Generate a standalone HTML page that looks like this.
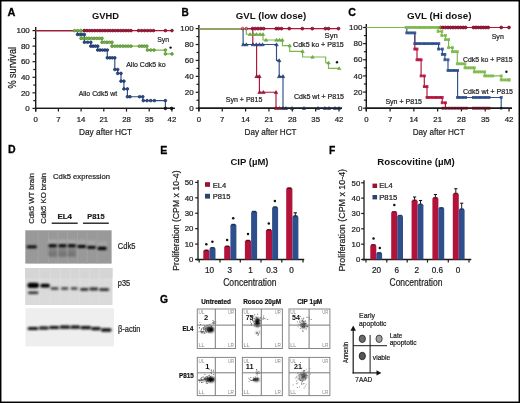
<!DOCTYPE html><html><head><meta charset="utf-8"><style>html,body{margin:0;padding:0;background:#fff;overflow:hidden;}svg{display:block;will-change:transform;}</style></head><body><svg width="520" height="403" viewBox="0 0 520 403" font-family="Liberation Sans, sans-serif">
<defs><filter id="bl" x="-30%" y="-80%" width="160%" height="260%"><feGaussianBlur stdDeviation="0.8"/></filter><filter id="bl2" x="-80%" y="-80%" width="260%" height="260%"><feGaussianBlur stdDeviation="1.3"/></filter><filter id="bl3" x="-80%" y="-80%" width="260%" height="260%"><feGaussianBlur stdDeviation="2.2"/></filter></defs>
<rect x="0.00" y="0.00" width="520.00" height="403.00" fill="#fff" />
<line x1="35.70" y1="27.10" x2="35.70" y2="111.40" stroke="#1a1a1a" stroke-width="1.4"/>
<line x1="35.00" y1="108.40" x2="174.91" y2="108.40" stroke="#1a1a1a" stroke-width="1.4"/>
<line x1="32.50" y1="108.40" x2="35.70" y2="108.40" stroke="#1a1a1a" stroke-width="1.2"/>
<line x1="33.30" y1="100.62" x2="35.70" y2="100.62" stroke="#1a1a1a" stroke-width="1.2"/>
<line x1="32.50" y1="92.84" x2="35.70" y2="92.84" stroke="#1a1a1a" stroke-width="1.2"/>
<line x1="33.30" y1="85.06" x2="35.70" y2="85.06" stroke="#1a1a1a" stroke-width="1.2"/>
<line x1="32.50" y1="77.28" x2="35.70" y2="77.28" stroke="#1a1a1a" stroke-width="1.2"/>
<line x1="33.30" y1="69.50" x2="35.70" y2="69.50" stroke="#1a1a1a" stroke-width="1.2"/>
<line x1="32.50" y1="61.72" x2="35.70" y2="61.72" stroke="#1a1a1a" stroke-width="1.2"/>
<line x1="33.30" y1="53.94" x2="35.70" y2="53.94" stroke="#1a1a1a" stroke-width="1.2"/>
<line x1="32.50" y1="46.16" x2="35.70" y2="46.16" stroke="#1a1a1a" stroke-width="1.2"/>
<line x1="33.30" y1="38.38" x2="35.70" y2="38.38" stroke="#1a1a1a" stroke-width="1.2"/>
<line x1="32.50" y1="30.60" x2="35.70" y2="30.60" stroke="#1a1a1a" stroke-width="1.2"/>
<line x1="35.70" y1="108.40" x2="35.70" y2="111.60" stroke="#1a1a1a" stroke-width="1.2"/>
<line x1="58.40" y1="108.40" x2="58.40" y2="111.60" stroke="#1a1a1a" stroke-width="1.2"/>
<line x1="81.10" y1="108.40" x2="81.10" y2="111.60" stroke="#1a1a1a" stroke-width="1.2"/>
<line x1="103.80" y1="108.40" x2="103.80" y2="111.60" stroke="#1a1a1a" stroke-width="1.2"/>
<line x1="126.50" y1="108.40" x2="126.50" y2="111.60" stroke="#1a1a1a" stroke-width="1.2"/>
<line x1="149.20" y1="108.40" x2="149.20" y2="111.60" stroke="#1a1a1a" stroke-width="1.2"/>
<line x1="171.91" y1="108.40" x2="171.91" y2="111.60" stroke="#1a1a1a" stroke-width="1.2"/>
<text x="29.80" y="111.10" font-size="8" text-anchor="end" fill="#1e1e1e" stroke="#1e1e1e" stroke-width="0.22" >0</text>
<text x="29.80" y="95.54" font-size="8" text-anchor="end" fill="#1e1e1e" stroke="#1e1e1e" stroke-width="0.22" >20</text>
<text x="29.80" y="79.98" font-size="8" text-anchor="end" fill="#1e1e1e" stroke="#1e1e1e" stroke-width="0.22" >40</text>
<text x="29.80" y="64.42" font-size="8" text-anchor="end" fill="#1e1e1e" stroke="#1e1e1e" stroke-width="0.22" >60</text>
<text x="29.80" y="48.86" font-size="8" text-anchor="end" fill="#1e1e1e" stroke="#1e1e1e" stroke-width="0.22" >80</text>
<text x="29.80" y="33.30" font-size="8" text-anchor="end" fill="#1e1e1e" stroke="#1e1e1e" stroke-width="0.22" >100</text>
<text x="35.70" y="121.90" font-size="7.8" text-anchor="middle" fill="#1e1e1e" stroke="#1e1e1e" stroke-width="0.22" >0</text>
<text x="58.40" y="121.90" font-size="7.8" text-anchor="middle" fill="#1e1e1e" stroke="#1e1e1e" stroke-width="0.22" >7</text>
<text x="81.10" y="121.90" font-size="7.8" text-anchor="middle" fill="#1e1e1e" stroke="#1e1e1e" stroke-width="0.22" >14</text>
<text x="103.80" y="121.90" font-size="7.8" text-anchor="middle" fill="#1e1e1e" stroke="#1e1e1e" stroke-width="0.22" >21</text>
<text x="126.50" y="121.90" font-size="7.8" text-anchor="middle" fill="#1e1e1e" stroke="#1e1e1e" stroke-width="0.22" >28</text>
<text x="149.20" y="121.90" font-size="7.8" text-anchor="middle" fill="#1e1e1e" stroke="#1e1e1e" stroke-width="0.22" >35</text>
<text x="171.91" y="121.90" font-size="7.8" text-anchor="middle" fill="#1e1e1e" stroke="#1e1e1e" stroke-width="0.22" >42</text>
<text x="7.50" y="15.80" font-size="11.6" font-weight="bold" textLength="7.90" lengthAdjust="spacingAndGlyphs" fill="#000" stroke="#000" stroke-width="0.3">A</text>
<text x="92.00" y="18.90" font-size="9.6" font-weight="bold" textLength="27.00" lengthAdjust="spacingAndGlyphs" fill="#111" >GVHD</text>
<text x="79.00" y="134.60" font-size="9.7" textLength="53.00" lengthAdjust="spacingAndGlyphs" fill="#1e1e1e" stroke="#1e1e1e" stroke-width="0.22" >Day after HCT</text>
<text x="16.40" y="88.60" font-size="10.6" textLength="41.60" lengthAdjust="spacingAndGlyphs" fill="#1e1e1e" stroke="#1e1e1e" stroke-width="0.22" transform="rotate(-90 16.40 88.60)" >% survival</text>
<path d="M35.70,30.60 L77.50,30.60 L77.50,34.49 L84.40,34.49 L84.40,42.27 L90.80,42.27 L90.80,46.16 L97.70,46.16 L97.70,50.05 L107.30,50.05 L107.30,57.83 L114.80,57.83 L114.80,69.50 L117.70,69.50 L117.70,73.39 L121.00,73.39 L121.00,81.17 L123.90,81.17 L123.90,88.95 L127.40,88.95 L127.40,96.73 L142.80,96.73 L142.80,100.62 L165.40,100.62 L165.40,108.40 L172.00,108.40" fill="none" stroke="#2e4f8c" stroke-width="1.15"/>
<path d="M35.70,30.60 L81.00,30.60 L81.00,38.38 L102.00,38.38 L102.00,42.27 L112.00,42.27 L112.00,46.16 L147.00,46.16 L147.00,50.05 L165.40,50.05 L165.40,53.94 L172.00,53.94" fill="none" stroke="#7cb84a" stroke-width="1.15"/>
<line x1="35.70" y1="30.60" x2="172.00" y2="30.60" stroke="#b3123a" stroke-width="1.15"/>
<circle cx="77.50" cy="34.49" r="1.35" fill="#2e4f8c" stroke="#1a2f5e" stroke-width="0.75"/>
<circle cx="79.80" cy="34.49" r="1.35" fill="#2e4f8c" stroke="#1a2f5e" stroke-width="0.75"/>
<circle cx="82.10" cy="34.49" r="1.35" fill="#2e4f8c" stroke="#1a2f5e" stroke-width="0.75"/>
<circle cx="84.40" cy="34.49" r="1.35" fill="#2e4f8c" stroke="#1a2f5e" stroke-width="0.75"/>
<circle cx="84.40" cy="42.27" r="1.35" fill="#2e4f8c" stroke="#1a2f5e" stroke-width="0.75"/>
<circle cx="87.60" cy="42.27" r="1.35" fill="#2e4f8c" stroke="#1a2f5e" stroke-width="0.75"/>
<circle cx="90.80" cy="42.27" r="1.35" fill="#2e4f8c" stroke="#1a2f5e" stroke-width="0.75"/>
<circle cx="90.80" cy="46.16" r="1.35" fill="#2e4f8c" stroke="#1a2f5e" stroke-width="0.75"/>
<circle cx="93.10" cy="46.16" r="1.35" fill="#2e4f8c" stroke="#1a2f5e" stroke-width="0.75"/>
<circle cx="95.40" cy="46.16" r="1.35" fill="#2e4f8c" stroke="#1a2f5e" stroke-width="0.75"/>
<circle cx="97.70" cy="46.16" r="1.35" fill="#2e4f8c" stroke="#1a2f5e" stroke-width="0.75"/>
<circle cx="97.70" cy="50.05" r="1.35" fill="#2e4f8c" stroke="#1a2f5e" stroke-width="0.75"/>
<circle cx="100.10" cy="50.05" r="1.35" fill="#2e4f8c" stroke="#1a2f5e" stroke-width="0.75"/>
<circle cx="102.50" cy="50.05" r="1.35" fill="#2e4f8c" stroke="#1a2f5e" stroke-width="0.75"/>
<circle cx="104.90" cy="50.05" r="1.35" fill="#2e4f8c" stroke="#1a2f5e" stroke-width="0.75"/>
<circle cx="107.30" cy="50.05" r="1.35" fill="#2e4f8c" stroke="#1a2f5e" stroke-width="0.75"/>
<circle cx="107.30" cy="57.83" r="1.35" fill="#2e4f8c" stroke="#1a2f5e" stroke-width="0.75"/>
<circle cx="109.80" cy="57.83" r="1.35" fill="#2e4f8c" stroke="#1a2f5e" stroke-width="0.75"/>
<circle cx="112.30" cy="57.83" r="1.35" fill="#2e4f8c" stroke="#1a2f5e" stroke-width="0.75"/>
<circle cx="114.80" cy="57.83" r="1.35" fill="#2e4f8c" stroke="#1a2f5e" stroke-width="0.75"/>
<circle cx="114.80" cy="69.50" r="1.35" fill="#2e4f8c" stroke="#1a2f5e" stroke-width="0.75"/>
<circle cx="117.70" cy="69.50" r="1.35" fill="#2e4f8c" stroke="#1a2f5e" stroke-width="0.75"/>
<circle cx="117.70" cy="73.39" r="1.35" fill="#2e4f8c" stroke="#1a2f5e" stroke-width="0.75"/>
<circle cx="121.00" cy="73.39" r="1.35" fill="#2e4f8c" stroke="#1a2f5e" stroke-width="0.75"/>
<circle cx="121.00" cy="81.17" r="1.35" fill="#2e4f8c" stroke="#1a2f5e" stroke-width="0.75"/>
<circle cx="123.90" cy="81.17" r="1.35" fill="#2e4f8c" stroke="#1a2f5e" stroke-width="0.75"/>
<circle cx="123.90" cy="88.95" r="1.35" fill="#2e4f8c" stroke="#1a2f5e" stroke-width="0.75"/>
<circle cx="127.40" cy="88.95" r="1.35" fill="#2e4f8c" stroke="#1a2f5e" stroke-width="0.75"/>
<circle cx="127.40" cy="96.73" r="1.35" fill="#2e4f8c" stroke="#1a2f5e" stroke-width="0.75"/>
<circle cx="130.00" cy="96.73" r="1.35" fill="#2e4f8c" stroke="#1a2f5e" stroke-width="0.75"/>
<circle cx="139.60" cy="96.73" r="1.35" fill="#2e4f8c" stroke="#1a2f5e" stroke-width="0.75"/>
<circle cx="142.80" cy="96.73" r="1.35" fill="#2e4f8c" stroke="#1a2f5e" stroke-width="0.75"/>
<circle cx="143.30" cy="100.62" r="1.35" fill="#2e4f8c" stroke="#1a2f5e" stroke-width="0.75"/>
<circle cx="147.00" cy="100.62" r="1.35" fill="#2e4f8c" stroke="#1a2f5e" stroke-width="0.75"/>
<circle cx="150.70" cy="100.62" r="1.35" fill="#2e4f8c" stroke="#1a2f5e" stroke-width="0.75"/>
<circle cx="154.40" cy="100.62" r="1.35" fill="#2e4f8c" stroke="#1a2f5e" stroke-width="0.75"/>
<circle cx="165.40" cy="100.62" r="1.35" fill="#2e4f8c" stroke="#1a2f5e" stroke-width="0.75"/>
<line x1="35.00" y1="108.40" x2="174.91" y2="108.40" stroke="#1a1a1a" stroke-width="1.4"/>
<circle cx="165.40" cy="108.40" r="1.35" fill="#111" stroke="#111" stroke-width="0.75"/>
<circle cx="171.60" cy="108.40" r="1.35" fill="#111" stroke="#111" stroke-width="0.75"/>
<circle cx="74.60" cy="30.60" r="1.35" fill="#7cb84a" stroke="#4f8a2c" stroke-width="0.75"/>
<circle cx="77.73" cy="30.60" r="1.35" fill="#7cb84a" stroke="#4f8a2c" stroke-width="0.75"/>
<circle cx="80.87" cy="30.60" r="1.35" fill="#7cb84a" stroke="#4f8a2c" stroke-width="0.75"/>
<circle cx="84.00" cy="30.60" r="1.35" fill="#7cb84a" stroke="#4f8a2c" stroke-width="0.75"/>
<circle cx="81.00" cy="38.38" r="1.35" fill="#7cb84a" stroke="#4f8a2c" stroke-width="0.75"/>
<circle cx="83.62" cy="38.38" r="1.35" fill="#7cb84a" stroke="#4f8a2c" stroke-width="0.75"/>
<circle cx="86.25" cy="38.38" r="1.35" fill="#7cb84a" stroke="#4f8a2c" stroke-width="0.75"/>
<circle cx="88.88" cy="38.38" r="1.35" fill="#7cb84a" stroke="#4f8a2c" stroke-width="0.75"/>
<circle cx="91.50" cy="38.38" r="1.35" fill="#7cb84a" stroke="#4f8a2c" stroke-width="0.75"/>
<circle cx="94.12" cy="38.38" r="1.35" fill="#7cb84a" stroke="#4f8a2c" stroke-width="0.75"/>
<circle cx="96.75" cy="38.38" r="1.35" fill="#7cb84a" stroke="#4f8a2c" stroke-width="0.75"/>
<circle cx="99.38" cy="38.38" r="1.35" fill="#7cb84a" stroke="#4f8a2c" stroke-width="0.75"/>
<circle cx="102.00" cy="38.38" r="1.35" fill="#7cb84a" stroke="#4f8a2c" stroke-width="0.75"/>
<circle cx="102.00" cy="42.27" r="1.35" fill="#7cb84a" stroke="#4f8a2c" stroke-width="0.75"/>
<circle cx="104.50" cy="42.27" r="1.35" fill="#7cb84a" stroke="#4f8a2c" stroke-width="0.75"/>
<circle cx="107.00" cy="42.27" r="1.35" fill="#7cb84a" stroke="#4f8a2c" stroke-width="0.75"/>
<circle cx="109.50" cy="42.27" r="1.35" fill="#7cb84a" stroke="#4f8a2c" stroke-width="0.75"/>
<circle cx="112.00" cy="42.27" r="1.35" fill="#7cb84a" stroke="#4f8a2c" stroke-width="0.75"/>
<circle cx="112.00" cy="46.16" r="1.35" fill="#7cb84a" stroke="#4f8a2c" stroke-width="0.75"/>
<circle cx="114.71" cy="46.16" r="1.35" fill="#7cb84a" stroke="#4f8a2c" stroke-width="0.75"/>
<circle cx="117.43" cy="46.16" r="1.35" fill="#7cb84a" stroke="#4f8a2c" stroke-width="0.75"/>
<circle cx="120.14" cy="46.16" r="1.35" fill="#7cb84a" stroke="#4f8a2c" stroke-width="0.75"/>
<circle cx="122.86" cy="46.16" r="1.35" fill="#7cb84a" stroke="#4f8a2c" stroke-width="0.75"/>
<circle cx="125.57" cy="46.16" r="1.35" fill="#7cb84a" stroke="#4f8a2c" stroke-width="0.75"/>
<circle cx="128.29" cy="46.16" r="1.35" fill="#7cb84a" stroke="#4f8a2c" stroke-width="0.75"/>
<circle cx="131.00" cy="46.16" r="1.35" fill="#7cb84a" stroke="#4f8a2c" stroke-width="0.75"/>
<circle cx="139.30" cy="46.16" r="1.35" fill="#7cb84a" stroke="#4f8a2c" stroke-width="0.75"/>
<circle cx="141.80" cy="46.16" r="1.35" fill="#7cb84a" stroke="#4f8a2c" stroke-width="0.75"/>
<circle cx="144.30" cy="46.16" r="1.35" fill="#7cb84a" stroke="#4f8a2c" stroke-width="0.75"/>
<circle cx="146.80" cy="46.16" r="1.35" fill="#7cb84a" stroke="#4f8a2c" stroke-width="0.75"/>
<circle cx="147.50" cy="50.05" r="1.35" fill="#7cb84a" stroke="#4f8a2c" stroke-width="0.75"/>
<circle cx="150.75" cy="50.05" r="1.35" fill="#7cb84a" stroke="#4f8a2c" stroke-width="0.75"/>
<circle cx="154.00" cy="50.05" r="1.35" fill="#7cb84a" stroke="#4f8a2c" stroke-width="0.75"/>
<circle cx="165.40" cy="50.05" r="1.35" fill="#7cb84a" stroke="#4f8a2c" stroke-width="0.75"/>
<circle cx="165.40" cy="53.94" r="1.35" fill="#7cb84a" stroke="#4f8a2c" stroke-width="0.75"/>
<circle cx="172.00" cy="53.94" r="1.35" fill="#7cb84a" stroke="#4f8a2c" stroke-width="0.75"/>
<circle cx="84.40" cy="30.60" r="1.35" fill="#b3123a" stroke="#640a26" stroke-width="0.75"/>
<circle cx="86.99" cy="30.60" r="1.35" fill="#b3123a" stroke="#640a26" stroke-width="0.75"/>
<circle cx="89.58" cy="30.60" r="1.35" fill="#b3123a" stroke="#640a26" stroke-width="0.75"/>
<circle cx="92.17" cy="30.60" r="1.35" fill="#b3123a" stroke="#640a26" stroke-width="0.75"/>
<circle cx="94.76" cy="30.60" r="1.35" fill="#b3123a" stroke="#640a26" stroke-width="0.75"/>
<circle cx="97.34" cy="30.60" r="1.35" fill="#b3123a" stroke="#640a26" stroke-width="0.75"/>
<circle cx="99.93" cy="30.60" r="1.35" fill="#b3123a" stroke="#640a26" stroke-width="0.75"/>
<circle cx="102.52" cy="30.60" r="1.35" fill="#b3123a" stroke="#640a26" stroke-width="0.75"/>
<circle cx="105.11" cy="30.60" r="1.35" fill="#b3123a" stroke="#640a26" stroke-width="0.75"/>
<circle cx="107.70" cy="30.60" r="1.35" fill="#b3123a" stroke="#640a26" stroke-width="0.75"/>
<circle cx="110.29" cy="30.60" r="1.35" fill="#b3123a" stroke="#640a26" stroke-width="0.75"/>
<circle cx="112.88" cy="30.60" r="1.35" fill="#b3123a" stroke="#640a26" stroke-width="0.75"/>
<circle cx="115.47" cy="30.60" r="1.35" fill="#b3123a" stroke="#640a26" stroke-width="0.75"/>
<circle cx="118.06" cy="30.60" r="1.35" fill="#b3123a" stroke="#640a26" stroke-width="0.75"/>
<circle cx="120.64" cy="30.60" r="1.35" fill="#b3123a" stroke="#640a26" stroke-width="0.75"/>
<circle cx="123.23" cy="30.60" r="1.35" fill="#b3123a" stroke="#640a26" stroke-width="0.75"/>
<circle cx="125.82" cy="30.60" r="1.35" fill="#b3123a" stroke="#640a26" stroke-width="0.75"/>
<circle cx="128.41" cy="30.60" r="1.35" fill="#b3123a" stroke="#640a26" stroke-width="0.75"/>
<circle cx="131.00" cy="30.60" r="1.35" fill="#b3123a" stroke="#640a26" stroke-width="0.75"/>
<circle cx="138.60" cy="30.60" r="1.35" fill="#b3123a" stroke="#640a26" stroke-width="0.75"/>
<circle cx="141.58" cy="30.60" r="1.35" fill="#b3123a" stroke="#640a26" stroke-width="0.75"/>
<circle cx="144.56" cy="30.60" r="1.35" fill="#b3123a" stroke="#640a26" stroke-width="0.75"/>
<circle cx="147.54" cy="30.60" r="1.35" fill="#b3123a" stroke="#640a26" stroke-width="0.75"/>
<circle cx="150.52" cy="30.60" r="1.35" fill="#b3123a" stroke="#640a26" stroke-width="0.75"/>
<circle cx="153.50" cy="30.60" r="1.35" fill="#b3123a" stroke="#640a26" stroke-width="0.75"/>
<circle cx="165.40" cy="30.60" r="1.35" fill="#b3123a" stroke="#640a26" stroke-width="0.75"/>
<circle cx="172.00" cy="30.60" r="1.35" fill="#b3123a" stroke="#640a26" stroke-width="0.75"/>
<text x="157.20" y="41.60" font-size="7.6" textLength="11.80" lengthAdjust="spacingAndGlyphs" fill="#1e1e1e" stroke="#1e1e1e" stroke-width="0.22" >Syn</text>
<text x="126.20" y="67.00" font-size="7.4" textLength="39.40" lengthAdjust="spacingAndGlyphs" fill="#1e1e1e" stroke="#1e1e1e" stroke-width="0.22" >Allo Cdk5 ko</text>
<text x="78.70" y="96.40" font-size="7.4" textLength="38.40" lengthAdjust="spacingAndGlyphs" fill="#1e1e1e" stroke="#1e1e1e" stroke-width="0.22" >Allo Cdk5 wt</text>
<circle cx="170.60" cy="47.60" r="1.18" fill="#111"/>
<line x1="198.90" y1="25.10" x2="198.90" y2="111.20" stroke="#1a1a1a" stroke-width="1.4"/>
<line x1="198.20" y1="108.20" x2="342.01" y2="108.20" stroke="#1a1a1a" stroke-width="1.4"/>
<line x1="195.70" y1="108.20" x2="198.90" y2="108.20" stroke="#1a1a1a" stroke-width="1.2"/>
<line x1="196.50" y1="100.24" x2="198.90" y2="100.24" stroke="#1a1a1a" stroke-width="1.2"/>
<line x1="195.70" y1="92.28" x2="198.90" y2="92.28" stroke="#1a1a1a" stroke-width="1.2"/>
<line x1="196.50" y1="84.32" x2="198.90" y2="84.32" stroke="#1a1a1a" stroke-width="1.2"/>
<line x1="195.70" y1="76.36" x2="198.90" y2="76.36" stroke="#1a1a1a" stroke-width="1.2"/>
<line x1="196.50" y1="68.40" x2="198.90" y2="68.40" stroke="#1a1a1a" stroke-width="1.2"/>
<line x1="195.70" y1="60.44" x2="198.90" y2="60.44" stroke="#1a1a1a" stroke-width="1.2"/>
<line x1="196.50" y1="52.48" x2="198.90" y2="52.48" stroke="#1a1a1a" stroke-width="1.2"/>
<line x1="195.70" y1="44.52" x2="198.90" y2="44.52" stroke="#1a1a1a" stroke-width="1.2"/>
<line x1="196.50" y1="36.56" x2="198.90" y2="36.56" stroke="#1a1a1a" stroke-width="1.2"/>
<line x1="195.70" y1="28.60" x2="198.90" y2="28.60" stroke="#1a1a1a" stroke-width="1.2"/>
<line x1="198.90" y1="108.20" x2="198.90" y2="111.40" stroke="#1a1a1a" stroke-width="1.2"/>
<line x1="222.25" y1="108.20" x2="222.25" y2="111.40" stroke="#1a1a1a" stroke-width="1.2"/>
<line x1="245.60" y1="108.20" x2="245.60" y2="111.40" stroke="#1a1a1a" stroke-width="1.2"/>
<line x1="268.96" y1="108.20" x2="268.96" y2="111.40" stroke="#1a1a1a" stroke-width="1.2"/>
<line x1="292.31" y1="108.20" x2="292.31" y2="111.40" stroke="#1a1a1a" stroke-width="1.2"/>
<line x1="315.66" y1="108.20" x2="315.66" y2="111.40" stroke="#1a1a1a" stroke-width="1.2"/>
<line x1="339.01" y1="108.20" x2="339.01" y2="111.40" stroke="#1a1a1a" stroke-width="1.2"/>
<text x="193.60" y="110.90" font-size="8" text-anchor="end" fill="#1e1e1e" stroke="#1e1e1e" stroke-width="0.22" >0</text>
<text x="193.60" y="94.98" font-size="8" text-anchor="end" fill="#1e1e1e" stroke="#1e1e1e" stroke-width="0.22" >20</text>
<text x="193.60" y="79.06" font-size="8" text-anchor="end" fill="#1e1e1e" stroke="#1e1e1e" stroke-width="0.22" >40</text>
<text x="193.60" y="63.14" font-size="8" text-anchor="end" fill="#1e1e1e" stroke="#1e1e1e" stroke-width="0.22" >60</text>
<text x="193.60" y="47.22" font-size="8" text-anchor="end" fill="#1e1e1e" stroke="#1e1e1e" stroke-width="0.22" >80</text>
<text x="193.60" y="31.30" font-size="8" text-anchor="end" fill="#1e1e1e" stroke="#1e1e1e" stroke-width="0.22" >100</text>
<text x="198.90" y="121.90" font-size="7.8" text-anchor="middle" fill="#1e1e1e" stroke="#1e1e1e" stroke-width="0.22" >0</text>
<text x="222.25" y="121.90" font-size="7.8" text-anchor="middle" fill="#1e1e1e" stroke="#1e1e1e" stroke-width="0.22" >7</text>
<text x="245.60" y="121.90" font-size="7.8" text-anchor="middle" fill="#1e1e1e" stroke="#1e1e1e" stroke-width="0.22" >14</text>
<text x="268.96" y="121.90" font-size="7.8" text-anchor="middle" fill="#1e1e1e" stroke="#1e1e1e" stroke-width="0.22" >21</text>
<text x="292.31" y="121.90" font-size="7.8" text-anchor="middle" fill="#1e1e1e" stroke="#1e1e1e" stroke-width="0.22" >28</text>
<text x="315.66" y="121.90" font-size="7.8" text-anchor="middle" fill="#1e1e1e" stroke="#1e1e1e" stroke-width="0.22" >35</text>
<text x="339.01" y="121.90" font-size="7.8" text-anchor="middle" fill="#1e1e1e" stroke="#1e1e1e" stroke-width="0.22" >42</text>
<text x="181.40" y="15.80" font-size="11.6" font-weight="bold" textLength="7.30" lengthAdjust="spacingAndGlyphs" fill="#000" stroke="#000" stroke-width="0.3">B</text>
<text x="235.80" y="19.20" font-size="9.8" font-weight="bold" textLength="70.40" lengthAdjust="spacingAndGlyphs" fill="#111" >GVL (low dose)</text>
<text x="244.60" y="134.60" font-size="9.7" textLength="52.00" lengthAdjust="spacingAndGlyphs" fill="#1e1e1e" stroke="#1e1e1e" stroke-width="0.22" >Day after HCT</text>
<path d="M198.90,28.60 L252.80,28.60 L252.80,44.52 L256.60,44.52 L256.60,76.36 L259.40,76.36 L259.40,92.28 L276.00,92.28 L276.00,108.20 L283.00,108.20" fill="none" stroke="#b3123a" stroke-width="1.15"/>
<path d="M198.90,28.60 L243.10,28.60 L243.10,44.52 L276.50,44.52 L276.50,60.44 L279.20,60.44 L279.20,76.36 L283.00,76.36 L283.00,108.20 L339.00,108.20" fill="none" stroke="#2e4f8c" stroke-width="1.15"/>
<line x1="198.90" y1="28.60" x2="339.00" y2="28.60" stroke="#b3123a" stroke-width="1.15"/>
<path d="M198.90,28.60 L246.30,28.60 L246.30,34.25 L263.00,34.25 L263.00,39.98 L282.40,39.98 L282.40,45.63 L289.70,45.63 L289.70,51.37 L302.60,51.37 L302.60,57.02 L325.70,57.02 L325.70,62.75 L328.50,62.75 L328.50,68.40 L339.20,68.40" fill="none" stroke="#7cb84a" stroke-width="1.15"/>
<circle cx="242.60" cy="28.60" r="1.3" fill="none" stroke="#b3123a" stroke-width="0.9"/>
<circle cx="246.30" cy="28.60" r="1.3" fill="none" stroke="#b3123a" stroke-width="0.9"/>
<circle cx="252.50" cy="28.60" r="1.45" fill="#b3123a" stroke="#640a26" stroke-width="0.75"/>
<circle cx="255.28" cy="28.60" r="1.45" fill="#b3123a" stroke="#640a26" stroke-width="0.75"/>
<circle cx="258.05" cy="28.60" r="1.45" fill="#b3123a" stroke="#640a26" stroke-width="0.75"/>
<circle cx="260.83" cy="28.60" r="1.45" fill="#b3123a" stroke="#640a26" stroke-width="0.75"/>
<circle cx="263.60" cy="28.60" r="1.45" fill="#b3123a" stroke="#640a26" stroke-width="0.75"/>
<circle cx="276.20" cy="28.60" r="1.45" fill="#b3123a" stroke="#640a26" stroke-width="0.75"/>
<circle cx="278.50" cy="28.60" r="1.45" fill="#b3123a" stroke="#640a26" stroke-width="0.75"/>
<circle cx="281.50" cy="28.60" r="1.45" fill="#b3123a" stroke="#640a26" stroke-width="0.75"/>
<circle cx="289.20" cy="28.60" r="1.45" fill="#b3123a" stroke="#640a26" stroke-width="0.75"/>
<circle cx="302.30" cy="28.60" r="1.45" fill="#b3123a" stroke="#640a26" stroke-width="0.75"/>
<circle cx="312.30" cy="28.60" r="1.45" fill="#b3123a" stroke="#640a26" stroke-width="0.75"/>
<circle cx="325.40" cy="28.60" r="1.45" fill="#b3123a" stroke="#640a26" stroke-width="0.75"/>
<circle cx="328.50" cy="28.60" r="1.45" fill="#b3123a" stroke="#640a26" stroke-width="0.75"/>
<circle cx="338.50" cy="28.60" r="1.45" fill="#b3123a" stroke="#640a26" stroke-width="0.75"/>
<path d="M241.49,45.83 L245.11,45.83 L243.30,42.78 Z" fill="#2e4f8c" stroke="#1a2f5e" stroke-width="0.5" stroke-linejoin="round"/>
<path d="M244.49,45.83 L248.11,45.83 L246.30,42.78 Z" fill="#2e4f8c" stroke="#1a2f5e" stroke-width="0.5" stroke-linejoin="round"/>
<path d="M251.19,45.83 L254.81,45.83 L253.00,42.78 Z" fill="#2e4f8c" stroke="#1a2f5e" stroke-width="0.5" stroke-linejoin="round"/>
<path d="M254.49,45.83 L258.11,45.83 L256.30,42.78 Z" fill="#2e4f8c" stroke="#1a2f5e" stroke-width="0.5" stroke-linejoin="round"/>
<path d="M257.69,45.83 L261.31,45.83 L259.50,42.78 Z" fill="#2e4f8c" stroke="#1a2f5e" stroke-width="0.5" stroke-linejoin="round"/>
<path d="M260.69,45.83 L264.31,45.83 L262.50,42.78 Z" fill="#2e4f8c" stroke="#1a2f5e" stroke-width="0.5" stroke-linejoin="round"/>
<path d="M274.69,45.83 L278.31,45.83 L276.50,42.78 Z" fill="#2e4f8c" stroke="#1a2f5e" stroke-width="0.5" stroke-linejoin="round"/>
<path d="M277.39,61.75 L281.01,61.75 L279.20,58.70 Z" fill="#2e4f8c" stroke="#1a2f5e" stroke-width="0.5" stroke-linejoin="round"/>
<path d="M277.39,77.67 L281.01,77.67 L279.20,74.62 Z" fill="#2e4f8c" stroke="#1a2f5e" stroke-width="0.5" stroke-linejoin="round"/>
<path d="M281.19,77.67 L284.81,77.67 L283.00,74.62 Z" fill="#2e4f8c" stroke="#1a2f5e" stroke-width="0.5" stroke-linejoin="round"/>
<line x1="198.20" y1="108.20" x2="342.01" y2="108.20" stroke="#1a1a1a" stroke-width="1.4"/>
<path d="M281.31,109.42 L284.69,109.42 L283.00,106.58 Z" fill="#1a2a50" stroke="#1a2a50" stroke-width="0.5" stroke-linejoin="round"/>
<path d="M284.31,109.42 L287.69,109.42 L286.00,106.58 Z" fill="#1a2a50" stroke="#1a2a50" stroke-width="0.5" stroke-linejoin="round"/>
<path d="M290.31,109.42 L293.69,109.42 L292.00,106.58 Z" fill="#1a2a50" stroke="#1a2a50" stroke-width="0.5" stroke-linejoin="round"/>
<path d="M302.31,109.42 L305.69,109.42 L304.00,106.58 Z" fill="#1a2a50" stroke="#1a2a50" stroke-width="0.5" stroke-linejoin="round"/>
<path d="M316.31,109.42 L319.69,109.42 L318.00,106.58 Z" fill="#1a2a50" stroke="#1a2a50" stroke-width="0.5" stroke-linejoin="round"/>
<path d="M323.31,109.42 L326.69,109.42 L325.00,106.58 Z" fill="#1a2a50" stroke="#1a2a50" stroke-width="0.5" stroke-linejoin="round"/>
<path d="M327.31,109.42 L330.69,109.42 L329.00,106.58 Z" fill="#1a2a50" stroke="#1a2a50" stroke-width="0.5" stroke-linejoin="round"/>
<path d="M333.31,109.42 L336.69,109.42 L335.00,106.58 Z" fill="#1a2a50" stroke="#1a2a50" stroke-width="0.5" stroke-linejoin="round"/>
<path d="M337.31,109.42 L340.69,109.42 L339.00,106.58 Z" fill="#1a2a50" stroke="#1a2a50" stroke-width="0.5" stroke-linejoin="round"/>
<path d="M254.79,77.67 L258.41,77.67 L256.60,74.62 Z" fill="#b3123a" stroke="#640a26" stroke-width="0.5" stroke-linejoin="round"/>
<path d="M257.59,77.67 L261.21,77.67 L259.40,74.62 Z" fill="#b3123a" stroke="#640a26" stroke-width="0.5" stroke-linejoin="round"/>
<path d="M257.79,93.59 L261.41,93.59 L259.60,90.54 Z" fill="#b3123a" stroke="#640a26" stroke-width="0.5" stroke-linejoin="round"/>
<path d="M261.59,93.59 L265.21,93.59 L263.40,90.54 Z" fill="#b3123a" stroke="#640a26" stroke-width="0.5" stroke-linejoin="round"/>
<path d="M274.19,93.59 L277.81,93.59 L276.00,90.54 Z" fill="#b3123a" stroke="#640a26" stroke-width="0.5" stroke-linejoin="round"/>
<path d="M274.31,109.42 L277.69,109.42 L276.00,106.58 Z" fill="#b3123a" stroke="#640a26" stroke-width="0.5" stroke-linejoin="round"/>
<path d="M277.81,109.42 L281.19,109.42 L279.50,106.58 Z" fill="#b3123a" stroke="#640a26" stroke-width="0.5" stroke-linejoin="round"/>
<path d="M248.31,35.47 L251.69,35.47 L250.00,32.63 Z" fill="#7cb84a" stroke="#4f8a2c" stroke-width="0.5" stroke-linejoin="round"/>
<path d="M251.81,35.47 L255.19,35.47 L253.50,32.63 Z" fill="#7cb84a" stroke="#4f8a2c" stroke-width="0.5" stroke-linejoin="round"/>
<path d="M254.81,35.47 L258.19,35.47 L256.50,32.63 Z" fill="#7cb84a" stroke="#4f8a2c" stroke-width="0.5" stroke-linejoin="round"/>
<path d="M258.31,35.47 L261.69,35.47 L260.00,32.63 Z" fill="#7cb84a" stroke="#4f8a2c" stroke-width="0.5" stroke-linejoin="round"/>
<path d="M261.31,35.47 L264.69,35.47 L263.00,32.63 Z" fill="#7cb84a" stroke="#4f8a2c" stroke-width="0.5" stroke-linejoin="round"/>
<path d="M264.31,41.20 L267.69,41.20 L266.00,38.36 Z" fill="#7cb84a" stroke="#4f8a2c" stroke-width="0.5" stroke-linejoin="round"/>
<path d="M274.81,41.20 L278.19,41.20 L276.50,38.36 Z" fill="#7cb84a" stroke="#4f8a2c" stroke-width="0.5" stroke-linejoin="round"/>
<path d="M277.81,41.20 L281.19,41.20 L279.50,38.36 Z" fill="#7cb84a" stroke="#4f8a2c" stroke-width="0.5" stroke-linejoin="round"/>
<path d="M280.71,41.20 L284.09,41.20 L282.40,38.36 Z" fill="#7cb84a" stroke="#4f8a2c" stroke-width="0.5" stroke-linejoin="round"/>
<path d="M288.01,46.85 L291.39,46.85 L289.70,44.01 Z" fill="#7cb84a" stroke="#4f8a2c" stroke-width="0.5" stroke-linejoin="round"/>
<path d="M300.91,52.58 L304.29,52.58 L302.60,49.75 Z" fill="#7cb84a" stroke="#4f8a2c" stroke-width="0.5" stroke-linejoin="round"/>
<path d="M310.81,58.23 L314.19,58.23 L312.50,55.40 Z" fill="#7cb84a" stroke="#4f8a2c" stroke-width="0.5" stroke-linejoin="round"/>
<path d="M326.81,63.96 L330.19,63.96 L328.50,61.13 Z" fill="#7cb84a" stroke="#4f8a2c" stroke-width="0.5" stroke-linejoin="round"/>
<path d="M337.51,69.62 L340.89,69.62 L339.20,66.78 Z" fill="#7cb84a" stroke="#4f8a2c" stroke-width="0.5" stroke-linejoin="round"/>
<text x="324.60" y="37.60" font-size="7.6" textLength="13.10" lengthAdjust="spacingAndGlyphs" fill="#1e1e1e" stroke="#1e1e1e" stroke-width="0.22" >Syn</text>
<text x="293.00" y="47.30" font-size="7.5" textLength="50.80" lengthAdjust="spacingAndGlyphs" fill="#1e1e1e" stroke="#1e1e1e" stroke-width="0.22" >Cdk5 ko + P815</text>
<text x="293.90" y="98.70" font-size="7.5" textLength="50.10" lengthAdjust="spacingAndGlyphs" fill="#1e1e1e" stroke="#1e1e1e" stroke-width="0.22" >Cdk5 wt + P815</text>
<text x="225.70" y="102.40" font-size="7.5" textLength="36.70" lengthAdjust="spacingAndGlyphs" fill="#1e1e1e" stroke="#1e1e1e" stroke-width="0.22" >Syn + P815</text>
<circle cx="337.00" cy="62.30" r="1.18" fill="#111"/>
<line x1="366.30" y1="24.00" x2="366.30" y2="111.20" stroke="#1a1a1a" stroke-width="1.4"/>
<line x1="365.60" y1="108.20" x2="512.02" y2="108.20" stroke="#1a1a1a" stroke-width="1.4"/>
<line x1="363.10" y1="108.20" x2="366.30" y2="108.20" stroke="#1a1a1a" stroke-width="1.2"/>
<line x1="363.90" y1="100.13" x2="366.30" y2="100.13" stroke="#1a1a1a" stroke-width="1.2"/>
<line x1="363.10" y1="92.06" x2="366.30" y2="92.06" stroke="#1a1a1a" stroke-width="1.2"/>
<line x1="363.90" y1="83.99" x2="366.30" y2="83.99" stroke="#1a1a1a" stroke-width="1.2"/>
<line x1="363.10" y1="75.92" x2="366.30" y2="75.92" stroke="#1a1a1a" stroke-width="1.2"/>
<line x1="363.90" y1="67.85" x2="366.30" y2="67.85" stroke="#1a1a1a" stroke-width="1.2"/>
<line x1="363.10" y1="59.78" x2="366.30" y2="59.78" stroke="#1a1a1a" stroke-width="1.2"/>
<line x1="363.90" y1="51.71" x2="366.30" y2="51.71" stroke="#1a1a1a" stroke-width="1.2"/>
<line x1="363.10" y1="43.64" x2="366.30" y2="43.64" stroke="#1a1a1a" stroke-width="1.2"/>
<line x1="363.90" y1="35.57" x2="366.30" y2="35.57" stroke="#1a1a1a" stroke-width="1.2"/>
<line x1="363.10" y1="27.50" x2="366.30" y2="27.50" stroke="#1a1a1a" stroke-width="1.2"/>
<line x1="366.30" y1="108.20" x2="366.30" y2="111.40" stroke="#1a1a1a" stroke-width="1.2"/>
<line x1="390.09" y1="108.20" x2="390.09" y2="111.40" stroke="#1a1a1a" stroke-width="1.2"/>
<line x1="413.87" y1="108.20" x2="413.87" y2="111.40" stroke="#1a1a1a" stroke-width="1.2"/>
<line x1="437.66" y1="108.20" x2="437.66" y2="111.40" stroke="#1a1a1a" stroke-width="1.2"/>
<line x1="461.44" y1="108.20" x2="461.44" y2="111.40" stroke="#1a1a1a" stroke-width="1.2"/>
<line x1="485.23" y1="108.20" x2="485.23" y2="111.40" stroke="#1a1a1a" stroke-width="1.2"/>
<line x1="509.02" y1="108.20" x2="509.02" y2="111.40" stroke="#1a1a1a" stroke-width="1.2"/>
<text x="362.40" y="110.90" font-size="8" text-anchor="end" fill="#1e1e1e" stroke="#1e1e1e" stroke-width="0.22" >0</text>
<text x="362.40" y="94.76" font-size="8" text-anchor="end" fill="#1e1e1e" stroke="#1e1e1e" stroke-width="0.22" >20</text>
<text x="362.40" y="78.62" font-size="8" text-anchor="end" fill="#1e1e1e" stroke="#1e1e1e" stroke-width="0.22" >40</text>
<text x="362.40" y="62.48" font-size="8" text-anchor="end" fill="#1e1e1e" stroke="#1e1e1e" stroke-width="0.22" >60</text>
<text x="362.40" y="46.34" font-size="8" text-anchor="end" fill="#1e1e1e" stroke="#1e1e1e" stroke-width="0.22" >80</text>
<text x="362.40" y="30.20" font-size="8" text-anchor="end" fill="#1e1e1e" stroke="#1e1e1e" stroke-width="0.22" >100</text>
<text x="366.30" y="121.90" font-size="7.8" text-anchor="middle" fill="#1e1e1e" stroke="#1e1e1e" stroke-width="0.22" >0</text>
<text x="390.09" y="121.90" font-size="7.8" text-anchor="middle" fill="#1e1e1e" stroke="#1e1e1e" stroke-width="0.22" >7</text>
<text x="413.87" y="121.90" font-size="7.8" text-anchor="middle" fill="#1e1e1e" stroke="#1e1e1e" stroke-width="0.22" >14</text>
<text x="437.66" y="121.90" font-size="7.8" text-anchor="middle" fill="#1e1e1e" stroke="#1e1e1e" stroke-width="0.22" >21</text>
<text x="461.44" y="121.90" font-size="7.8" text-anchor="middle" fill="#1e1e1e" stroke="#1e1e1e" stroke-width="0.22" >28</text>
<text x="485.23" y="121.90" font-size="7.8" text-anchor="middle" fill="#1e1e1e" stroke="#1e1e1e" stroke-width="0.22" >35</text>
<text x="509.02" y="121.90" font-size="7.8" text-anchor="middle" fill="#1e1e1e" stroke="#1e1e1e" stroke-width="0.22" >42</text>
<text x="348.30" y="15.80" font-size="11.6" font-weight="bold" textLength="7.70" lengthAdjust="spacingAndGlyphs" fill="#000" stroke="#000" stroke-width="0.3">C</text>
<text x="406.90" y="19.20" font-size="9.8" font-weight="bold" textLength="64.60" lengthAdjust="spacingAndGlyphs" fill="#111" >GVL (Hi dose)</text>
<text x="412.70" y="134.60" font-size="9.7" textLength="52.00" lengthAdjust="spacingAndGlyphs" fill="#1e1e1e" stroke="#1e1e1e" stroke-width="0.22" >Day after HCT</text>
<line x1="366.30" y1="27.50" x2="509.00" y2="27.50" stroke="#b3123a" stroke-width="1.15"/>
<path d="M414.80,32.91 L414.80,49.05 L417.00,49.05 L417.00,59.78 L421.10,59.78 L421.10,75.92 L424.30,75.92 L424.30,86.65 L427.00,86.65 L427.00,97.47 L442.20,97.47 L442.20,102.79 L445.40,102.79 L445.40,108.20 L489.00,108.20" fill="none" stroke="#b3123a" stroke-width="1.15"/>
<path d="M366.30,27.50 L406.80,27.50 L406.80,32.91 L414.80,32.91 L414.80,43.64 L438.60,43.64 L438.60,49.05 L442.30,49.05 L442.30,54.37 L444.90,54.37 L444.90,59.78 L448.00,59.78 L448.00,70.51 L457.60,70.51 L457.60,97.47 L501.20,97.47 L501.20,108.20 L509.00,108.20" fill="none" stroke="#2e4f8c" stroke-width="1.15"/>
<path d="M366.30,27.50 L438.10,27.50 L438.10,31.53 L441.80,31.53 L441.80,35.57 L445.50,35.57 L445.50,39.61 L448.60,39.61 L448.60,47.68 L452.40,47.68 L452.40,51.71 L457.30,51.71 L457.30,63.82 L465.00,63.82 L465.00,67.85 L474.30,67.85 L474.30,71.89 L484.70,71.89 L484.70,75.92 L501.20,75.92 L501.20,79.95 L509.00,79.95" fill="none" stroke="#7cb84a" stroke-width="1.15"/>
<circle cx="440.40" cy="27.50" r="1.45" fill="#b3123a" stroke="#640a26" stroke-width="0.75"/>
<circle cx="442.92" cy="27.50" r="1.45" fill="#b3123a" stroke="#640a26" stroke-width="0.75"/>
<circle cx="445.44" cy="27.50" r="1.45" fill="#b3123a" stroke="#640a26" stroke-width="0.75"/>
<circle cx="447.96" cy="27.50" r="1.45" fill="#b3123a" stroke="#640a26" stroke-width="0.75"/>
<circle cx="450.48" cy="27.50" r="1.45" fill="#b3123a" stroke="#640a26" stroke-width="0.75"/>
<circle cx="453.00" cy="27.50" r="1.45" fill="#b3123a" stroke="#640a26" stroke-width="0.75"/>
<circle cx="455.52" cy="27.50" r="1.45" fill="#b3123a" stroke="#640a26" stroke-width="0.75"/>
<circle cx="458.04" cy="27.50" r="1.45" fill="#b3123a" stroke="#640a26" stroke-width="0.75"/>
<circle cx="460.56" cy="27.50" r="1.45" fill="#b3123a" stroke="#640a26" stroke-width="0.75"/>
<circle cx="463.08" cy="27.50" r="1.45" fill="#b3123a" stroke="#640a26" stroke-width="0.75"/>
<circle cx="465.60" cy="27.50" r="1.45" fill="#b3123a" stroke="#640a26" stroke-width="0.75"/>
<circle cx="473.40" cy="27.50" r="1.45" fill="#b3123a" stroke="#640a26" stroke-width="0.75"/>
<circle cx="475.87" cy="27.50" r="1.45" fill="#b3123a" stroke="#640a26" stroke-width="0.75"/>
<circle cx="478.33" cy="27.50" r="1.45" fill="#b3123a" stroke="#640a26" stroke-width="0.75"/>
<circle cx="480.80" cy="27.50" r="1.45" fill="#b3123a" stroke="#640a26" stroke-width="0.75"/>
<circle cx="483.27" cy="27.50" r="1.45" fill="#b3123a" stroke="#640a26" stroke-width="0.75"/>
<circle cx="485.73" cy="27.50" r="1.45" fill="#b3123a" stroke="#640a26" stroke-width="0.75"/>
<circle cx="488.20" cy="27.50" r="1.45" fill="#b3123a" stroke="#640a26" stroke-width="0.75"/>
<circle cx="501.20" cy="27.50" r="1.45" fill="#b3123a" stroke="#640a26" stroke-width="0.75"/>
<circle cx="509.00" cy="27.50" r="1.45" fill="#b3123a" stroke="#640a26" stroke-width="0.75"/>
<rect x="405.20" y="26.50" width="2.00" height="2.00" fill="#7cb84a" fill-opacity="0.55" stroke="#7cb84a" stroke-width="0.8"/>
<rect x="407.74" y="26.50" width="2.00" height="2.00" fill="#7cb84a" fill-opacity="0.55" stroke="#7cb84a" stroke-width="0.8"/>
<rect x="410.28" y="26.50" width="2.00" height="2.00" fill="#7cb84a" fill-opacity="0.55" stroke="#7cb84a" stroke-width="0.8"/>
<rect x="412.82" y="26.50" width="2.00" height="2.00" fill="#7cb84a" fill-opacity="0.55" stroke="#7cb84a" stroke-width="0.8"/>
<rect x="415.35" y="26.50" width="2.00" height="2.00" fill="#7cb84a" fill-opacity="0.55" stroke="#7cb84a" stroke-width="0.8"/>
<rect x="417.89" y="26.50" width="2.00" height="2.00" fill="#7cb84a" fill-opacity="0.55" stroke="#7cb84a" stroke-width="0.8"/>
<rect x="420.43" y="26.50" width="2.00" height="2.00" fill="#7cb84a" fill-opacity="0.55" stroke="#7cb84a" stroke-width="0.8"/>
<rect x="422.97" y="26.50" width="2.00" height="2.00" fill="#7cb84a" fill-opacity="0.55" stroke="#7cb84a" stroke-width="0.8"/>
<rect x="425.51" y="26.50" width="2.00" height="2.00" fill="#7cb84a" fill-opacity="0.55" stroke="#7cb84a" stroke-width="0.8"/>
<rect x="428.05" y="26.50" width="2.00" height="2.00" fill="#7cb84a" fill-opacity="0.55" stroke="#7cb84a" stroke-width="0.8"/>
<rect x="430.58" y="26.50" width="2.00" height="2.00" fill="#7cb84a" fill-opacity="0.55" stroke="#7cb84a" stroke-width="0.8"/>
<rect x="433.12" y="26.50" width="2.00" height="2.00" fill="#7cb84a" fill-opacity="0.55" stroke="#7cb84a" stroke-width="0.8"/>
<rect x="435.66" y="26.50" width="2.00" height="2.00" fill="#7cb84a" fill-opacity="0.55" stroke="#7cb84a" stroke-width="0.8"/>
<rect x="438.20" y="26.50" width="2.00" height="2.00" fill="#7cb84a" fill-opacity="0.55" stroke="#7cb84a" stroke-width="0.8"/>
<rect x="437.10" y="30.53" width="2.00" height="2.00" fill="#7cb84a" fill-opacity="0.55" stroke="#7cb84a" stroke-width="0.8"/>
<rect x="440.80" y="30.53" width="2.00" height="2.00" fill="#7cb84a" fill-opacity="0.55" stroke="#7cb84a" stroke-width="0.8"/>
<rect x="440.80" y="34.57" width="2.00" height="2.00" fill="#7cb84a" fill-opacity="0.55" stroke="#7cb84a" stroke-width="0.8"/>
<rect x="444.50" y="34.57" width="2.00" height="2.00" fill="#7cb84a" fill-opacity="0.55" stroke="#7cb84a" stroke-width="0.8"/>
<rect x="444.50" y="38.61" width="2.00" height="2.00" fill="#7cb84a" fill-opacity="0.55" stroke="#7cb84a" stroke-width="0.8"/>
<rect x="447.60" y="38.61" width="2.00" height="2.00" fill="#7cb84a" fill-opacity="0.55" stroke="#7cb84a" stroke-width="0.8"/>
<rect x="447.60" y="46.68" width="2.00" height="2.00" fill="#7cb84a" fill-opacity="0.55" stroke="#7cb84a" stroke-width="0.8"/>
<rect x="451.40" y="46.68" width="2.00" height="2.00" fill="#7cb84a" fill-opacity="0.55" stroke="#7cb84a" stroke-width="0.8"/>
<rect x="451.40" y="50.71" width="2.00" height="2.00" fill="#7cb84a" fill-opacity="0.55" stroke="#7cb84a" stroke-width="0.8"/>
<rect x="453.85" y="50.71" width="2.00" height="2.00" fill="#7cb84a" fill-opacity="0.55" stroke="#7cb84a" stroke-width="0.8"/>
<rect x="456.30" y="50.71" width="2.00" height="2.00" fill="#7cb84a" fill-opacity="0.55" stroke="#7cb84a" stroke-width="0.8"/>
<rect x="456.30" y="62.82" width="2.00" height="2.00" fill="#7cb84a" fill-opacity="0.55" stroke="#7cb84a" stroke-width="0.8"/>
<rect x="458.87" y="62.82" width="2.00" height="2.00" fill="#7cb84a" fill-opacity="0.55" stroke="#7cb84a" stroke-width="0.8"/>
<rect x="461.43" y="62.82" width="2.00" height="2.00" fill="#7cb84a" fill-opacity="0.55" stroke="#7cb84a" stroke-width="0.8"/>
<rect x="464.00" y="62.82" width="2.00" height="2.00" fill="#7cb84a" fill-opacity="0.55" stroke="#7cb84a" stroke-width="0.8"/>
<rect x="464.00" y="66.85" width="2.00" height="2.00" fill="#7cb84a" fill-opacity="0.55" stroke="#7cb84a" stroke-width="0.8"/>
<rect x="466.32" y="66.85" width="2.00" height="2.00" fill="#7cb84a" fill-opacity="0.55" stroke="#7cb84a" stroke-width="0.8"/>
<rect x="468.65" y="66.85" width="2.00" height="2.00" fill="#7cb84a" fill-opacity="0.55" stroke="#7cb84a" stroke-width="0.8"/>
<rect x="470.98" y="66.85" width="2.00" height="2.00" fill="#7cb84a" fill-opacity="0.55" stroke="#7cb84a" stroke-width="0.8"/>
<rect x="473.30" y="66.85" width="2.00" height="2.00" fill="#7cb84a" fill-opacity="0.55" stroke="#7cb84a" stroke-width="0.8"/>
<rect x="473.30" y="70.89" width="2.00" height="2.00" fill="#7cb84a" fill-opacity="0.55" stroke="#7cb84a" stroke-width="0.8"/>
<rect x="475.90" y="70.89" width="2.00" height="2.00" fill="#7cb84a" fill-opacity="0.55" stroke="#7cb84a" stroke-width="0.8"/>
<rect x="478.50" y="70.89" width="2.00" height="2.00" fill="#7cb84a" fill-opacity="0.55" stroke="#7cb84a" stroke-width="0.8"/>
<rect x="481.10" y="70.89" width="2.00" height="2.00" fill="#7cb84a" fill-opacity="0.55" stroke="#7cb84a" stroke-width="0.8"/>
<rect x="483.70" y="70.89" width="2.00" height="2.00" fill="#7cb84a" fill-opacity="0.55" stroke="#7cb84a" stroke-width="0.8"/>
<rect x="483.70" y="74.92" width="2.00" height="2.00" fill="#7cb84a" fill-opacity="0.55" stroke="#7cb84a" stroke-width="0.8"/>
<rect x="486.37" y="74.92" width="2.00" height="2.00" fill="#7cb84a" fill-opacity="0.55" stroke="#7cb84a" stroke-width="0.8"/>
<rect x="489.03" y="74.92" width="2.00" height="2.00" fill="#7cb84a" fill-opacity="0.55" stroke="#7cb84a" stroke-width="0.8"/>
<rect x="491.70" y="74.92" width="2.00" height="2.00" fill="#7cb84a" fill-opacity="0.55" stroke="#7cb84a" stroke-width="0.8"/>
<rect x="500.20" y="74.92" width="2.00" height="2.00" fill="#7cb84a" fill-opacity="0.55" stroke="#7cb84a" stroke-width="0.8"/>
<rect x="500.20" y="78.95" width="2.00" height="2.00" fill="#7cb84a" fill-opacity="0.55" stroke="#7cb84a" stroke-width="0.8"/>
<rect x="502.80" y="78.95" width="2.00" height="2.00" fill="#7cb84a" fill-opacity="0.55" stroke="#7cb84a" stroke-width="0.8"/>
<rect x="505.40" y="78.95" width="2.00" height="2.00" fill="#7cb84a" fill-opacity="0.55" stroke="#7cb84a" stroke-width="0.8"/>
<rect x="508.00" y="78.95" width="2.00" height="2.00" fill="#7cb84a" fill-opacity="0.55" stroke="#7cb84a" stroke-width="0.8"/>
<rect x="508.00" y="78.95" width="2.00" height="2.00" fill="#7cb84a" fill-opacity="0.55" stroke="#7cb84a" stroke-width="0.8"/>
<rect x="405.80" y="31.91" width="2.00" height="2.00" fill="#2e4f8c" fill-opacity="0.55" stroke="#2e4f8c" stroke-width="0.8"/>
<rect x="408.47" y="31.91" width="2.00" height="2.00" fill="#2e4f8c" fill-opacity="0.55" stroke="#2e4f8c" stroke-width="0.8"/>
<rect x="411.13" y="31.91" width="2.00" height="2.00" fill="#2e4f8c" fill-opacity="0.55" stroke="#2e4f8c" stroke-width="0.8"/>
<rect x="413.80" y="31.91" width="2.00" height="2.00" fill="#2e4f8c" fill-opacity="0.55" stroke="#2e4f8c" stroke-width="0.8"/>
<rect x="413.80" y="42.64" width="2.00" height="2.00" fill="#2e4f8c" fill-opacity="0.55" stroke="#2e4f8c" stroke-width="0.8"/>
<rect x="416.47" y="42.64" width="2.00" height="2.00" fill="#2e4f8c" fill-opacity="0.55" stroke="#2e4f8c" stroke-width="0.8"/>
<rect x="419.13" y="42.64" width="2.00" height="2.00" fill="#2e4f8c" fill-opacity="0.55" stroke="#2e4f8c" stroke-width="0.8"/>
<rect x="421.80" y="42.64" width="2.00" height="2.00" fill="#2e4f8c" fill-opacity="0.55" stroke="#2e4f8c" stroke-width="0.8"/>
<rect x="424.47" y="42.64" width="2.00" height="2.00" fill="#2e4f8c" fill-opacity="0.55" stroke="#2e4f8c" stroke-width="0.8"/>
<rect x="427.13" y="42.64" width="2.00" height="2.00" fill="#2e4f8c" fill-opacity="0.55" stroke="#2e4f8c" stroke-width="0.8"/>
<rect x="429.80" y="42.64" width="2.00" height="2.00" fill="#2e4f8c" fill-opacity="0.55" stroke="#2e4f8c" stroke-width="0.8"/>
<rect x="432.47" y="42.64" width="2.00" height="2.00" fill="#2e4f8c" fill-opacity="0.55" stroke="#2e4f8c" stroke-width="0.8"/>
<rect x="435.13" y="42.64" width="2.00" height="2.00" fill="#2e4f8c" fill-opacity="0.55" stroke="#2e4f8c" stroke-width="0.8"/>
<rect x="437.80" y="42.64" width="2.00" height="2.00" fill="#2e4f8c" fill-opacity="0.55" stroke="#2e4f8c" stroke-width="0.8"/>
<rect x="437.60" y="48.05" width="2.00" height="2.00" fill="#2e4f8c" fill-opacity="0.55" stroke="#2e4f8c" stroke-width="0.8"/>
<rect x="441.30" y="48.05" width="2.00" height="2.00" fill="#2e4f8c" fill-opacity="0.55" stroke="#2e4f8c" stroke-width="0.8"/>
<rect x="441.30" y="53.37" width="2.00" height="2.00" fill="#2e4f8c" fill-opacity="0.55" stroke="#2e4f8c" stroke-width="0.8"/>
<rect x="443.90" y="53.37" width="2.00" height="2.00" fill="#2e4f8c" fill-opacity="0.55" stroke="#2e4f8c" stroke-width="0.8"/>
<rect x="443.90" y="58.78" width="2.00" height="2.00" fill="#2e4f8c" fill-opacity="0.55" stroke="#2e4f8c" stroke-width="0.8"/>
<rect x="447.00" y="58.78" width="2.00" height="2.00" fill="#2e4f8c" fill-opacity="0.55" stroke="#2e4f8c" stroke-width="0.8"/>
<rect x="447.00" y="69.51" width="2.00" height="2.00" fill="#2e4f8c" fill-opacity="0.55" stroke="#2e4f8c" stroke-width="0.8"/>
<rect x="449.40" y="69.51" width="2.00" height="2.00" fill="#2e4f8c" fill-opacity="0.55" stroke="#2e4f8c" stroke-width="0.8"/>
<rect x="451.80" y="69.51" width="2.00" height="2.00" fill="#2e4f8c" fill-opacity="0.55" stroke="#2e4f8c" stroke-width="0.8"/>
<rect x="454.20" y="69.51" width="2.00" height="2.00" fill="#2e4f8c" fill-opacity="0.55" stroke="#2e4f8c" stroke-width="0.8"/>
<rect x="456.60" y="69.51" width="2.00" height="2.00" fill="#2e4f8c" fill-opacity="0.55" stroke="#2e4f8c" stroke-width="0.8"/>
<rect x="456.60" y="96.47" width="2.00" height="2.00" fill="#2e4f8c" fill-opacity="0.55" stroke="#2e4f8c" stroke-width="0.8"/>
<rect x="459.27" y="96.47" width="2.00" height="2.00" fill="#2e4f8c" fill-opacity="0.55" stroke="#2e4f8c" stroke-width="0.8"/>
<rect x="461.93" y="96.47" width="2.00" height="2.00" fill="#2e4f8c" fill-opacity="0.55" stroke="#2e4f8c" stroke-width="0.8"/>
<rect x="464.60" y="96.47" width="2.00" height="2.00" fill="#2e4f8c" fill-opacity="0.55" stroke="#2e4f8c" stroke-width="0.8"/>
<rect x="472.40" y="96.47" width="2.00" height="2.00" fill="#2e4f8c" fill-opacity="0.55" stroke="#2e4f8c" stroke-width="0.8"/>
<rect x="475.00" y="96.47" width="2.00" height="2.00" fill="#2e4f8c" fill-opacity="0.55" stroke="#2e4f8c" stroke-width="0.8"/>
<rect x="477.60" y="96.47" width="2.00" height="2.00" fill="#2e4f8c" fill-opacity="0.55" stroke="#2e4f8c" stroke-width="0.8"/>
<rect x="480.20" y="96.47" width="2.00" height="2.00" fill="#2e4f8c" fill-opacity="0.55" stroke="#2e4f8c" stroke-width="0.8"/>
<rect x="482.80" y="96.47" width="2.00" height="2.00" fill="#2e4f8c" fill-opacity="0.55" stroke="#2e4f8c" stroke-width="0.8"/>
<rect x="485.40" y="96.47" width="2.00" height="2.00" fill="#2e4f8c" fill-opacity="0.55" stroke="#2e4f8c" stroke-width="0.8"/>
<rect x="488.00" y="96.47" width="2.00" height="2.00" fill="#2e4f8c" fill-opacity="0.55" stroke="#2e4f8c" stroke-width="0.8"/>
<rect x="500.20" y="96.47" width="2.00" height="2.00" fill="#2e4f8c" fill-opacity="0.55" stroke="#2e4f8c" stroke-width="0.8"/>
<rect x="500.40" y="107.40" width="1.60" height="1.60" fill="#111" fill-opacity="0.55" stroke="#111" stroke-width="0.8"/>
<rect x="413.80" y="48.05" width="2.00" height="2.00" fill="#b3123a" fill-opacity="0.55" stroke="#b3123a" stroke-width="0.8"/>
<rect x="416.00" y="48.05" width="2.00" height="2.00" fill="#b3123a" fill-opacity="0.55" stroke="#b3123a" stroke-width="0.8"/>
<rect x="416.00" y="58.78" width="2.00" height="2.00" fill="#b3123a" fill-opacity="0.55" stroke="#b3123a" stroke-width="0.8"/>
<rect x="418.05" y="58.78" width="2.00" height="2.00" fill="#b3123a" fill-opacity="0.55" stroke="#b3123a" stroke-width="0.8"/>
<rect x="420.10" y="58.78" width="2.00" height="2.00" fill="#b3123a" fill-opacity="0.55" stroke="#b3123a" stroke-width="0.8"/>
<rect x="420.10" y="74.92" width="2.00" height="2.00" fill="#b3123a" fill-opacity="0.55" stroke="#b3123a" stroke-width="0.8"/>
<rect x="423.30" y="74.92" width="2.00" height="2.00" fill="#b3123a" fill-opacity="0.55" stroke="#b3123a" stroke-width="0.8"/>
<rect x="423.30" y="85.65" width="2.00" height="2.00" fill="#b3123a" fill-opacity="0.55" stroke="#b3123a" stroke-width="0.8"/>
<rect x="426.00" y="85.65" width="2.00" height="2.00" fill="#b3123a" fill-opacity="0.55" stroke="#b3123a" stroke-width="0.8"/>
<rect x="426.00" y="96.47" width="2.00" height="2.00" fill="#b3123a" fill-opacity="0.55" stroke="#b3123a" stroke-width="0.8"/>
<rect x="428.53" y="96.47" width="2.00" height="2.00" fill="#b3123a" fill-opacity="0.55" stroke="#b3123a" stroke-width="0.8"/>
<rect x="431.07" y="96.47" width="2.00" height="2.00" fill="#b3123a" fill-opacity="0.55" stroke="#b3123a" stroke-width="0.8"/>
<rect x="433.60" y="96.47" width="2.00" height="2.00" fill="#b3123a" fill-opacity="0.55" stroke="#b3123a" stroke-width="0.8"/>
<rect x="436.13" y="96.47" width="2.00" height="2.00" fill="#b3123a" fill-opacity="0.55" stroke="#b3123a" stroke-width="0.8"/>
<rect x="438.67" y="96.47" width="2.00" height="2.00" fill="#b3123a" fill-opacity="0.55" stroke="#b3123a" stroke-width="0.8"/>
<rect x="441.20" y="96.47" width="2.00" height="2.00" fill="#b3123a" fill-opacity="0.55" stroke="#b3123a" stroke-width="0.8"/>
<rect x="441.20" y="101.79" width="2.00" height="2.00" fill="#b3123a" fill-opacity="0.55" stroke="#b3123a" stroke-width="0.8"/>
<rect x="444.40" y="101.79" width="2.00" height="2.00" fill="#b3123a" fill-opacity="0.55" stroke="#b3123a" stroke-width="0.8"/>
<rect x="442.00" y="107.20" width="2.00" height="2.00" fill="#9a1838" fill-opacity="0.55" stroke="#9a1838" stroke-width="0.8"/>
<rect x="444.94" y="107.20" width="2.00" height="2.00" fill="#9a1838" fill-opacity="0.55" stroke="#9a1838" stroke-width="0.8"/>
<rect x="447.88" y="107.20" width="2.00" height="2.00" fill="#9a1838" fill-opacity="0.55" stroke="#9a1838" stroke-width="0.8"/>
<rect x="450.81" y="107.20" width="2.00" height="2.00" fill="#9a1838" fill-opacity="0.55" stroke="#9a1838" stroke-width="0.8"/>
<rect x="453.75" y="107.20" width="2.00" height="2.00" fill="#9a1838" fill-opacity="0.55" stroke="#9a1838" stroke-width="0.8"/>
<rect x="456.69" y="107.20" width="2.00" height="2.00" fill="#9a1838" fill-opacity="0.55" stroke="#9a1838" stroke-width="0.8"/>
<rect x="459.62" y="107.20" width="2.00" height="2.00" fill="#9a1838" fill-opacity="0.55" stroke="#9a1838" stroke-width="0.8"/>
<rect x="462.56" y="107.20" width="2.00" height="2.00" fill="#9a1838" fill-opacity="0.55" stroke="#9a1838" stroke-width="0.8"/>
<rect x="465.50" y="107.20" width="2.00" height="2.00" fill="#9a1838" fill-opacity="0.55" stroke="#9a1838" stroke-width="0.8"/>
<rect x="472.40" y="107.20" width="2.00" height="2.00" fill="#9a1838" fill-opacity="0.55" stroke="#9a1838" stroke-width="0.8"/>
<rect x="475.00" y="107.20" width="2.00" height="2.00" fill="#9a1838" fill-opacity="0.55" stroke="#9a1838" stroke-width="0.8"/>
<rect x="477.60" y="107.20" width="2.00" height="2.00" fill="#9a1838" fill-opacity="0.55" stroke="#9a1838" stroke-width="0.8"/>
<rect x="480.20" y="107.20" width="2.00" height="2.00" fill="#9a1838" fill-opacity="0.55" stroke="#9a1838" stroke-width="0.8"/>
<rect x="482.80" y="107.20" width="2.00" height="2.00" fill="#9a1838" fill-opacity="0.55" stroke="#9a1838" stroke-width="0.8"/>
<rect x="485.40" y="107.20" width="2.00" height="2.00" fill="#9a1838" fill-opacity="0.55" stroke="#9a1838" stroke-width="0.8"/>
<rect x="488.00" y="107.20" width="2.00" height="2.00" fill="#9a1838" fill-opacity="0.55" stroke="#9a1838" stroke-width="0.8"/>
<line x1="365.60" y1="108.20" x2="512.02" y2="108.20" stroke="#1a1a1a" stroke-width="1.2"/>
<text x="491.70" y="39.20" font-size="7.6" textLength="12.10" lengthAdjust="spacingAndGlyphs" fill="#1e1e1e" stroke="#1e1e1e" stroke-width="0.22" >Syn</text>
<text x="463.00" y="61.80" font-size="7.5" textLength="49.50" lengthAdjust="spacingAndGlyphs" fill="#1e1e1e" stroke="#1e1e1e" stroke-width="0.22" >Cdk5 ko + P815</text>
<text x="463.00" y="94.40" font-size="7.5" textLength="50.00" lengthAdjust="spacingAndGlyphs" fill="#1e1e1e" stroke="#1e1e1e" stroke-width="0.22" >Cdk5 wt + P815</text>
<text x="385.40" y="103.90" font-size="7.5" textLength="36.60" lengthAdjust="spacingAndGlyphs" fill="#1e1e1e" stroke="#1e1e1e" stroke-width="0.22" >Syn + P815</text>
<circle cx="506.40" cy="71.80" r="1.18" fill="#111"/>
<text x="7.90" y="153.40" font-size="11.6" font-weight="bold" textLength="7.60" lengthAdjust="spacingAndGlyphs" fill="#000" stroke="#000" stroke-width="0.3">D</text>
<text x="53.10" y="179.40" font-size="7.9" textLength="57.00" lengthAdjust="spacingAndGlyphs" fill="#1e1e1e" stroke="#1e1e1e" stroke-width="0.22" >Cdk5 expression</text>
<text x="33.90" y="223.70" font-size="8.1" textLength="50.70" lengthAdjust="spacingAndGlyphs" fill="#1e1e1e" stroke="#1e1e1e" stroke-width="0.22" transform="rotate(-90 33.90 223.70)" >Cdk5 WT brain</text>
<text x="46.10" y="223.70" font-size="8.1" textLength="50.70" lengthAdjust="spacingAndGlyphs" fill="#1e1e1e" stroke="#1e1e1e" stroke-width="0.22" transform="rotate(-90 46.10 223.70)" >Cdk5 KO brain</text>
<text x="57.50" y="219.40" font-size="7.4" font-weight="bold" textLength="14.40" lengthAdjust="spacingAndGlyphs" fill="#1e1e1e" stroke="#111" stroke-width="0.2">EL4</text>
<text x="87.30" y="219.40" font-size="7.4" font-weight="bold" textLength="17.30" lengthAdjust="spacingAndGlyphs" fill="#1e1e1e" stroke="#111" stroke-width="0.2">P815</text>
<line x1="51.70" y1="223.20" x2="77.70" y2="223.20" stroke="#111" stroke-width="1.3"/>
<line x1="83.00" y1="223.20" x2="108.80" y2="223.20" stroke="#111" stroke-width="1.3"/>
<rect x="25.30" y="230.30" width="86.30" height="33.30" fill="#999999" />
<rect x="37.80" y="230.30" width="0.70" height="33.30" fill="#a6a6a6" />
<rect x="48.00" y="230.30" width="0.70" height="33.30" fill="#a6a6a6" />
<rect x="57.60" y="230.30" width="0.70" height="33.30" fill="#a6a6a6" />
<rect x="67.00" y="230.30" width="0.70" height="33.30" fill="#a6a6a6" />
<rect x="77.00" y="230.30" width="0.70" height="33.30" fill="#a6a6a6" />
<rect x="86.80" y="230.30" width="0.70" height="33.30" fill="#a6a6a6" />
<rect x="96.80" y="230.30" width="0.70" height="33.30" fill="#a6a6a6" />
<defs><linearGradient id="sm" x1="0" y1="0" x2="0" y2="1"><stop offset="0" stop-color="#8c8c8c"/><stop offset="1" stop-color="#6c6c6c"/></linearGradient></defs>
<rect x="48.40" y="239.5" width="8.50" height="5" fill="#a9a9a9" filter="url(#bl)"/>
<rect x="48.40" y="247" width="8.50" height="9.5" fill="url(#sm)" filter="url(#bl)"/>
<rect x="58.40" y="239.5" width="8.20" height="5" fill="#a9a9a9" filter="url(#bl)"/>
<rect x="58.40" y="247" width="8.20" height="9.5" fill="url(#sm)" filter="url(#bl)"/>
<rect x="67.70" y="239.5" width="8.20" height="5" fill="#a9a9a9" filter="url(#bl)"/>
<rect x="67.70" y="247" width="8.20" height="9.5" fill="url(#sm)" filter="url(#bl)"/>
<rect x="77.30" y="239.50" width="8.70" height="5" fill="#a6a6a6" filter="url(#bl)"/>
<rect x="87.10" y="240.30" width="8.70" height="5" fill="#a6a6a6" filter="url(#bl)"/>
<rect x="97.50" y="241.40" width="9.20" height="5" fill="#a6a6a6" filter="url(#bl)"/>
<rect x="26.60" y="245.40" width="10.40" height="2.80" rx="1.40" fill="#000" filter="url(#bl)"/>
<rect x="48.40" y="244.35" width="8.50" height="2.90" rx="1.45" fill="#000" filter="url(#bl)"/>
<rect x="58.40" y="244.35" width="8.20" height="2.90" rx="1.45" fill="#000" filter="url(#bl)"/>
<rect x="67.70" y="244.35" width="8.20" height="2.90" rx="1.45" fill="#000" filter="url(#bl)"/>
<rect x="77.30" y="245.10" width="8.70" height="2.80" rx="1.40" fill="#000" filter="url(#bl)"/>
<rect x="87.10" y="245.90" width="8.70" height="2.80" rx="1.40" fill="#000" filter="url(#bl)"/>
<rect x="97.50" y="246.80" width="9.20" height="3.20" rx="1.60" fill="#000" filter="url(#bl)"/>
<text x="117.80" y="248.60" font-size="8.4" textLength="17.60" lengthAdjust="spacingAndGlyphs" fill="#1e1e1e" stroke="#1e1e1e" stroke-width="0.22" >Cdk5</text>
<rect x="25.20" y="268.00" width="87.30" height="37.00" fill="#dadada" />
<rect x="25.20" y="268.00" width="87.30" height="10.00" fill="#d5d5d5" />
<rect x="39.50" y="268.00" width="0.70" height="37.00" fill="#dfdfdf" />
<rect x="50.00" y="268.00" width="0.70" height="37.00" fill="#dfdfdf" />
<rect x="60.00" y="268.00" width="0.70" height="37.00" fill="#dfdfdf" />
<rect x="70.00" y="268.00" width="0.70" height="37.00" fill="#dfdfdf" />
<rect x="79.50" y="268.00" width="0.70" height="37.00" fill="#dfdfdf" />
<rect x="89.00" y="268.00" width="0.70" height="37.00" fill="#dfdfdf" />
<rect x="98.80" y="268.00" width="0.70" height="37.00" fill="#dfdfdf" />
<rect x="27.40" y="282.70" width="11.60" height="5.20" rx="2.60" fill="#000" filter="url(#bl)"/>
<rect x="28.00" y="291.50" width="10.40" height="2.60" rx="1.30" fill="#2a2a2a" filter="url(#bl)"/>
<rect x="40.30" y="283.80" width="9.60" height="3.80" rx="1.90" fill="#000" filter="url(#bl)"/>
<rect x="50.60" y="287.20" width="7.90" height="2.60" rx="1.30" fill="#3a3a3a" filter="url(#bl)"/>
<rect x="61.00" y="287.20" width="7.30" height="2.60" rx="1.30" fill="#3a3a3a" filter="url(#bl)"/>
<rect x="70.80" y="287.20" width="6.80" height="2.60" rx="1.30" fill="#3a3a3a" filter="url(#bl)"/>
<rect x="80.00" y="288.00" width="8.50" height="2.80" rx="1.40" fill="#2a2a2a" filter="url(#bl)"/>
<rect x="89.20" y="287.60" width="9.00" height="2.80" rx="1.40" fill="#2a2a2a" filter="url(#bl)"/>
<rect x="99.00" y="288.20" width="10.20" height="2.80" rx="1.40" fill="#2a2a2a" filter="url(#bl)"/>
<text x="117.80" y="286.00" font-size="8.4" textLength="12.40" lengthAdjust="spacingAndGlyphs" fill="#1e1e1e" stroke="#1e1e1e" stroke-width="0.22" >p35</text>
<rect x="25.50" y="308.20" width="88.40" height="38.10" fill="#eeeeee" />
<rect x="27.60" y="326.90" width="10.90" height="3.20" rx="1.60" fill="#0a0a0a" filter="url(#bl)"/>
<rect x="38.80" y="326.40" width="10.00" height="3.20" rx="1.60" fill="#0a0a0a" filter="url(#bl)"/>
<rect x="49.00" y="325.90" width="10.30" height="3.20" rx="1.60" fill="#0a0a0a" filter="url(#bl)"/>
<rect x="59.60" y="325.60" width="10.60" height="3.20" rx="1.60" fill="#0a0a0a" filter="url(#bl)"/>
<rect x="70.30" y="325.60" width="10.00" height="3.20" rx="1.60" fill="#0a0a0a" filter="url(#bl)"/>
<rect x="80.40" y="326.10" width="10.80" height="3.20" rx="1.60" fill="#0a0a0a" filter="url(#bl)"/>
<rect x="91.00" y="327.00" width="9.80" height="3.20" rx="1.60" fill="#0a0a0a" filter="url(#bl)"/>
<rect x="100.80" y="328.20" width="10.80" height="3.60" rx="1.80" fill="#0a0a0a" filter="url(#bl)"/>
<text x="118.00" y="331.50" font-size="8.4" textLength="22.50" lengthAdjust="spacingAndGlyphs" fill="#1e1e1e" stroke="#1e1e1e" stroke-width="0.22" >β-actin</text>
<text x="160.30" y="153.60" font-size="11.6" font-weight="bold" textLength="7.10" lengthAdjust="spacingAndGlyphs" fill="#000" stroke="#000" stroke-width="0.3">E</text>
<text x="230.50" y="164.80" font-size="8.8" font-weight="bold" textLength="38.00" lengthAdjust="spacingAndGlyphs" fill="#111" >CIP (µM)</text>
<line x1="198.00" y1="179.90" x2="198.00" y2="260.50" stroke="#1a1a1a" stroke-width="1.3"/>
<line x1="195.60" y1="259.50" x2="304.20" y2="259.50" stroke="#1a1a1a" stroke-width="1.3"/>
<line x1="195.20" y1="259.50" x2="198.00" y2="259.50" stroke="#1a1a1a" stroke-width="1.2"/>
<text x="193.40" y="262.20" font-size="7.8" text-anchor="end" fill="#1e1e1e" stroke="#1e1e1e" stroke-width="0.22" >0</text>
<line x1="195.20" y1="244.08" x2="198.00" y2="244.08" stroke="#1a1a1a" stroke-width="1.2"/>
<text x="193.40" y="246.78" font-size="7.8" text-anchor="end" fill="#1e1e1e" stroke="#1e1e1e" stroke-width="0.22" >10</text>
<line x1="195.20" y1="228.66" x2="198.00" y2="228.66" stroke="#1a1a1a" stroke-width="1.2"/>
<text x="193.40" y="231.36" font-size="7.8" text-anchor="end" fill="#1e1e1e" stroke="#1e1e1e" stroke-width="0.22" >20</text>
<line x1="195.20" y1="213.24" x2="198.00" y2="213.24" stroke="#1a1a1a" stroke-width="1.2"/>
<text x="193.40" y="215.94" font-size="7.8" text-anchor="end" fill="#1e1e1e" stroke="#1e1e1e" stroke-width="0.22" >30</text>
<line x1="195.20" y1="197.82" x2="198.00" y2="197.82" stroke="#1a1a1a" stroke-width="1.2"/>
<text x="193.40" y="200.52" font-size="7.8" text-anchor="end" fill="#1e1e1e" stroke="#1e1e1e" stroke-width="0.22" >40</text>
<line x1="195.20" y1="182.40" x2="198.00" y2="182.40" stroke="#1a1a1a" stroke-width="1.2"/>
<text x="193.40" y="185.10" font-size="7.8" text-anchor="end" fill="#1e1e1e" stroke="#1e1e1e" stroke-width="0.22" >50</text>
<line x1="199.20" y1="259.50" x2="199.20" y2="262.50" stroke="#1a1a1a" stroke-width="1.2"/>
<line x1="220.00" y1="259.50" x2="220.00" y2="262.50" stroke="#1a1a1a" stroke-width="1.2"/>
<line x1="240.30" y1="259.50" x2="240.30" y2="262.50" stroke="#1a1a1a" stroke-width="1.2"/>
<line x1="261.00" y1="259.50" x2="261.00" y2="262.50" stroke="#1a1a1a" stroke-width="1.2"/>
<line x1="281.80" y1="259.50" x2="281.80" y2="262.50" stroke="#1a1a1a" stroke-width="1.2"/>
<line x1="303.00" y1="259.50" x2="303.00" y2="262.50" stroke="#1a1a1a" stroke-width="1.2"/>
<text x="209.60" y="273.10" font-size="8.2" text-anchor="middle" fill="#1e1e1e" stroke="#1e1e1e" stroke-width="0.22" >10</text>
<text x="229.70" y="273.10" font-size="8.2" text-anchor="middle" fill="#1e1e1e" stroke="#1e1e1e" stroke-width="0.22" >3</text>
<text x="250.50" y="273.10" font-size="8.2" text-anchor="middle" fill="#1e1e1e" stroke="#1e1e1e" stroke-width="0.22" >1</text>
<text x="271.90" y="273.10" font-size="8.2" text-anchor="middle" fill="#1e1e1e" stroke="#1e1e1e" stroke-width="0.22" >0.3</text>
<text x="291.50" y="273.10" font-size="8.2" text-anchor="middle" fill="#1e1e1e" stroke="#1e1e1e" stroke-width="0.22" >0</text>
<text x="223.20" y="285.80" font-size="10.5" textLength="53.30" lengthAdjust="spacingAndGlyphs" fill="#1e1e1e" stroke="#1e1e1e" stroke-width="0.22" >Concentration</text>
<text x="178.60" y="270.80" font-size="9.6" textLength="100.40" lengthAdjust="spacingAndGlyphs" fill="#1e1e1e" stroke="#1e1e1e" stroke-width="0.22" transform="rotate(-90 178.60 270.80)" >Proliferation (CPM x 10-4)</text>
<path d="M203.30,259.50 L203.30,251.30 Q203.30,250.00 206.40,250.00 Q209.50,250.00 209.50,251.30 L209.50,259.50 Z" fill="#b3123a"/>
<path d="M209.50,259.50 L209.50,248.70 Q209.50,247.40 212.50,247.40 Q215.50,247.40 215.50,248.70 L215.50,259.50 Z" fill="#2e4f8c"/>
<rect x="204.20" y="249.50" width="4.4" height="1.4" rx="0.7" fill="#3a0014" opacity="0.8"/>
<rect x="210.30" y="246.90" width="4.4" height="1.4" rx="0.7" fill="#0e1c38" opacity="0.8"/>
<path d="M224.20,259.50 L224.20,247.30 Q224.20,246.00 227.30,246.00 Q230.40,246.00 230.40,247.30 L230.40,259.50 Z" fill="#b3123a"/>
<path d="M230.40,259.50 L230.40,225.60 Q230.40,224.30 233.40,224.30 Q236.40,224.30 236.40,225.60 L236.40,259.50 Z" fill="#2e4f8c"/>
<rect x="225.10" y="245.50" width="4.4" height="1.4" rx="0.7" fill="#3a0014" opacity="0.8"/>
<rect x="231.20" y="223.80" width="4.4" height="1.4" rx="0.7" fill="#0e1c38" opacity="0.8"/>
<path d="M244.90,259.50 L244.90,241.60 Q244.90,240.30 248.00,240.30 Q251.10,240.30 251.10,241.60 L251.10,259.50 Z" fill="#b3123a"/>
<path d="M251.10,259.50 L251.10,212.60 Q251.10,211.30 254.10,211.30 Q257.10,211.30 257.10,212.60 L257.10,259.50 Z" fill="#2e4f8c"/>
<rect x="245.80" y="239.80" width="4.4" height="1.4" rx="0.7" fill="#3a0014" opacity="0.8"/>
<rect x="251.90" y="210.80" width="4.4" height="1.4" rx="0.7" fill="#0e1c38" opacity="0.8"/>
<path d="M265.90,259.50 L265.90,230.80 Q265.90,229.50 269.00,229.50 Q272.10,229.50 272.10,230.80 L272.10,259.50 Z" fill="#b3123a"/>
<path d="M272.10,259.50 L272.10,208.00 Q272.10,206.70 275.10,206.70 Q278.10,206.70 278.10,208.00 L278.10,259.50 Z" fill="#2e4f8c"/>
<rect x="266.80" y="229.00" width="4.4" height="1.4" rx="0.7" fill="#3a0014" opacity="0.8"/>
<rect x="272.90" y="206.20" width="4.4" height="1.4" rx="0.7" fill="#0e1c38" opacity="0.8"/>
<path d="M286.20,259.50 L286.20,189.10 Q286.20,187.80 289.30,187.80 Q292.40,187.80 292.40,189.10 L292.40,259.50 Z" fill="#b3123a"/>
<path d="M292.40,259.50 L292.40,217.00 Q292.40,215.70 295.40,215.70 Q298.40,215.70 298.40,217.00 L298.40,259.50 Z" fill="#2e4f8c"/>
<rect x="287.10" y="187.30" width="4.4" height="1.4" rx="0.7" fill="#3a0014" opacity="0.8"/>
<rect x="293.20" y="215.20" width="4.4" height="1.4" rx="0.7" fill="#0e1c38" opacity="0.8"/>
<line x1="295.30" y1="212.80" x2="295.30" y2="216.00" stroke="#1a1a1a" stroke-width="1.0"/>
<line x1="293.60" y1="212.80" x2="297.00" y2="212.80" stroke="#1a1a1a" stroke-width="1.1"/>
<circle cx="206.30" cy="244.30" r="1.25" fill="#111"/>
<circle cx="212.40" cy="241.70" r="1.25" fill="#111"/>
<circle cx="227.10" cy="240.00" r="1.25" fill="#111"/>
<circle cx="233.20" cy="218.20" r="1.25" fill="#111"/>
<circle cx="248.00" cy="233.90" r="1.25" fill="#111"/>
<circle cx="268.80" cy="223.50" r="1.25" fill="#111"/>
<circle cx="274.90" cy="201.00" r="1.25" fill="#111"/>
<rect x="205.00" y="182.20" width="5.00" height="4.60" fill="#9c1030" />
<text x="212.70" y="187.60" font-size="7.6" textLength="13.50" lengthAdjust="spacingAndGlyphs" fill="#1e1e1e" stroke="#1e1e1e" stroke-width="0.22" >EL4</text>
<rect x="205.00" y="193.80" width="5.00" height="4.80" fill="#2d4272" />
<text x="212.70" y="198.90" font-size="7.6" textLength="17.70" lengthAdjust="spacingAndGlyphs" fill="#1e1e1e" stroke="#1e1e1e" stroke-width="0.22" >P815</text>
<text x="328.90" y="153.50" font-size="11.6" font-weight="bold" textLength="6.30" lengthAdjust="spacingAndGlyphs" fill="#000" stroke="#000" stroke-width="0.3">F</text>
<text x="377.30" y="164.70" font-size="8.8" font-weight="bold" textLength="77.50" lengthAdjust="spacingAndGlyphs" fill="#111" >Roscovitine (µM)</text>
<line x1="364.00" y1="180.30" x2="364.00" y2="260.50" stroke="#1a1a1a" stroke-width="1.3"/>
<line x1="362.00" y1="259.50" x2="471.30" y2="259.50" stroke="#1a1a1a" stroke-width="1.3"/>
<line x1="361.20" y1="259.50" x2="364.00" y2="259.50" stroke="#1a1a1a" stroke-width="1.2"/>
<text x="360.30" y="262.20" font-size="7.8" text-anchor="end" fill="#1e1e1e" stroke="#1e1e1e" stroke-width="0.22" >0</text>
<line x1="361.20" y1="244.16" x2="364.00" y2="244.16" stroke="#1a1a1a" stroke-width="1.2"/>
<text x="360.30" y="246.86" font-size="7.8" text-anchor="end" fill="#1e1e1e" stroke="#1e1e1e" stroke-width="0.22" >10</text>
<line x1="361.20" y1="228.82" x2="364.00" y2="228.82" stroke="#1a1a1a" stroke-width="1.2"/>
<text x="360.30" y="231.52" font-size="7.8" text-anchor="end" fill="#1e1e1e" stroke="#1e1e1e" stroke-width="0.22" >20</text>
<line x1="361.20" y1="213.48" x2="364.00" y2="213.48" stroke="#1a1a1a" stroke-width="1.2"/>
<text x="360.30" y="216.18" font-size="7.8" text-anchor="end" fill="#1e1e1e" stroke="#1e1e1e" stroke-width="0.22" >30</text>
<line x1="361.20" y1="198.14" x2="364.00" y2="198.14" stroke="#1a1a1a" stroke-width="1.2"/>
<text x="360.30" y="200.84" font-size="7.8" text-anchor="end" fill="#1e1e1e" stroke="#1e1e1e" stroke-width="0.22" >40</text>
<line x1="361.20" y1="182.80" x2="364.00" y2="182.80" stroke="#1a1a1a" stroke-width="1.2"/>
<text x="360.30" y="185.50" font-size="7.8" text-anchor="end" fill="#1e1e1e" stroke="#1e1e1e" stroke-width="0.22" >50</text>
<line x1="366.00" y1="259.50" x2="366.00" y2="262.50" stroke="#1a1a1a" stroke-width="1.2"/>
<line x1="386.80" y1="259.50" x2="386.80" y2="262.50" stroke="#1a1a1a" stroke-width="1.2"/>
<line x1="407.20" y1="259.50" x2="407.20" y2="262.50" stroke="#1a1a1a" stroke-width="1.2"/>
<line x1="427.50" y1="259.50" x2="427.50" y2="262.50" stroke="#1a1a1a" stroke-width="1.2"/>
<line x1="448.30" y1="259.50" x2="448.30" y2="262.50" stroke="#1a1a1a" stroke-width="1.2"/>
<line x1="469.00" y1="259.50" x2="469.00" y2="262.50" stroke="#1a1a1a" stroke-width="1.2"/>
<text x="376.50" y="272.90" font-size="8.2" text-anchor="middle" fill="#1e1e1e" stroke="#1e1e1e" stroke-width="0.22" >20</text>
<text x="396.90" y="272.90" font-size="8.2" text-anchor="middle" fill="#1e1e1e" stroke="#1e1e1e" stroke-width="0.22" >6</text>
<text x="416.80" y="272.90" font-size="8.2" text-anchor="middle" fill="#1e1e1e" stroke="#1e1e1e" stroke-width="0.22" >2</text>
<text x="437.40" y="272.90" font-size="8.2" text-anchor="middle" fill="#1e1e1e" stroke="#1e1e1e" stroke-width="0.22" >0.6</text>
<text x="458.10" y="272.90" font-size="8.2" text-anchor="middle" fill="#1e1e1e" stroke="#1e1e1e" stroke-width="0.22" >0</text>
<text x="389.50" y="285.80" font-size="10.5" textLength="52.90" lengthAdjust="spacingAndGlyphs" fill="#1e1e1e" stroke="#1e1e1e" stroke-width="0.22" >Concentration</text>
<text x="345.40" y="271.60" font-size="9.6" textLength="102.70" lengthAdjust="spacingAndGlyphs" fill="#1e1e1e" stroke="#1e1e1e" stroke-width="0.22" transform="rotate(-90 345.40 271.60)" >Proliferation (CPM x 10-4)</text>
<path d="M370.30,259.50 L370.30,245.90 Q370.30,244.60 373.30,244.60 Q376.30,244.60 376.30,245.90 L376.30,259.50 Z" fill="#b3123a"/>
<path d="M376.30,259.50 L376.30,253.80 Q376.30,252.50 379.20,252.50 Q382.10,252.50 382.10,253.80 L382.10,259.50 Z" fill="#2e4f8c"/>
<rect x="371.00" y="244.10" width="4.6" height="1.4" rx="0.7" fill="#3a0014" opacity="0.7"/>
<rect x="377.00" y="252.00" width="4.4" height="1.4" rx="0.7" fill="#0e1c38" opacity="0.7"/>
<path d="M391.20,259.50 L391.20,212.70 Q391.20,211.40 394.20,211.40 Q397.20,211.40 397.20,212.70 L397.20,259.50 Z" fill="#b3123a"/>
<path d="M397.20,259.50 L397.20,216.50 Q397.20,215.20 400.10,215.20 Q403.00,215.20 403.00,216.50 L403.00,259.50 Z" fill="#2e4f8c"/>
<rect x="391.90" y="210.90" width="4.6" height="1.4" rx="0.7" fill="#3a0014" opacity="0.7"/>
<rect x="397.90" y="214.70" width="4.4" height="1.4" rx="0.7" fill="#0e1c38" opacity="0.7"/>
<path d="M411.60,259.50 L411.60,201.20 Q411.60,199.90 414.60,199.90 Q417.60,199.90 417.60,201.20 L417.60,259.50 Z" fill="#b3123a"/>
<path d="M417.60,259.50 L417.60,205.20 Q417.60,203.90 420.50,203.90 Q423.40,203.90 423.40,205.20 L423.40,259.50 Z" fill="#2e4f8c"/>
<rect x="412.30" y="199.40" width="4.6" height="1.4" rx="0.7" fill="#3a0014" opacity="0.7"/>
<rect x="418.30" y="203.40" width="4.4" height="1.4" rx="0.7" fill="#0e1c38" opacity="0.7"/>
<line x1="414.60" y1="197.00" x2="414.60" y2="199.90" stroke="#1a1a1a" stroke-width="1.0"/>
<line x1="413.00" y1="197.00" x2="416.20" y2="197.00" stroke="#1a1a1a" stroke-width="1.1"/>
<line x1="420.50" y1="200.50" x2="420.50" y2="203.90" stroke="#1a1a1a" stroke-width="1.0"/>
<line x1="418.90" y1="200.50" x2="422.10" y2="200.50" stroke="#1a1a1a" stroke-width="1.1"/>
<path d="M432.40,259.50 L432.40,198.80 Q432.40,197.50 435.40,197.50 Q438.40,197.50 438.40,198.80 L438.40,259.50 Z" fill="#b3123a"/>
<path d="M438.40,259.50 L438.40,208.80 Q438.40,207.50 441.30,207.50 Q444.20,207.50 444.20,208.80 L444.20,259.50 Z" fill="#2e4f8c"/>
<rect x="433.10" y="197.00" width="4.6" height="1.4" rx="0.7" fill="#3a0014" opacity="0.7"/>
<rect x="439.10" y="207.00" width="4.4" height="1.4" rx="0.7" fill="#0e1c38" opacity="0.7"/>
<line x1="435.40" y1="194.50" x2="435.40" y2="197.50" stroke="#1a1a1a" stroke-width="1.0"/>
<line x1="433.80" y1="194.50" x2="437.00" y2="194.50" stroke="#1a1a1a" stroke-width="1.1"/>
<path d="M452.80,259.50 L452.80,194.50 Q452.80,193.20 455.80,193.20 Q458.80,193.20 458.80,194.50 L458.80,259.50 Z" fill="#b3123a"/>
<path d="M458.80,259.50 L458.80,210.00 Q458.80,208.70 461.70,208.70 Q464.60,208.70 464.60,210.00 L464.60,259.50 Z" fill="#2e4f8c"/>
<rect x="453.50" y="192.70" width="4.6" height="1.4" rx="0.7" fill="#3a0014" opacity="0.7"/>
<rect x="459.50" y="208.20" width="4.4" height="1.4" rx="0.7" fill="#0e1c38" opacity="0.7"/>
<line x1="455.80" y1="188.70" x2="455.80" y2="193.20" stroke="#1a1a1a" stroke-width="1.0"/>
<line x1="454.20" y1="188.70" x2="457.40" y2="188.70" stroke="#1a1a1a" stroke-width="1.1"/>
<line x1="461.70" y1="203.20" x2="461.70" y2="208.70" stroke="#1a1a1a" stroke-width="1.0"/>
<line x1="460.10" y1="203.20" x2="463.30" y2="203.20" stroke="#1a1a1a" stroke-width="1.1"/>
<circle cx="373.50" cy="238.60" r="1.25" fill="#111"/>
<circle cx="379.80" cy="248.00" r="1.25" fill="#111"/>
<circle cx="394.30" cy="204.90" r="1.25" fill="#111"/>
<rect x="372.50" y="183.60" width="4.60" height="4.40" fill="#9c1030" />
<text x="379.20" y="188.40" font-size="7.6" textLength="13.40" lengthAdjust="spacingAndGlyphs" fill="#1e1e1e" stroke="#1e1e1e" stroke-width="0.22" >EL4</text>
<rect x="372.50" y="195.00" width="4.60" height="4.40" fill="#2d4272" />
<text x="379.20" y="199.90" font-size="7.6" textLength="18.10" lengthAdjust="spacingAndGlyphs" fill="#1e1e1e" stroke="#1e1e1e" stroke-width="0.22" >P815</text>
<text x="160.10" y="302.70" font-size="11.6" font-weight="bold" textLength="8.00" lengthAdjust="spacingAndGlyphs" fill="#000" stroke="#000" stroke-width="0.3">G</text>
<text x="201.20" y="304.10" font-size="6.9" font-weight="bold" textLength="29.70" lengthAdjust="spacingAndGlyphs" fill="#111" stroke="#111" stroke-width="0.2">Untreated</text>
<text x="243.20" y="304.10" font-size="6.9" font-weight="bold" textLength="37.90" lengthAdjust="spacingAndGlyphs" fill="#111" stroke="#111" stroke-width="0.2">Rosco 20µM</text>
<text x="297.20" y="304.10" font-size="6.9" font-weight="bold" textLength="25.00" lengthAdjust="spacingAndGlyphs" fill="#111" stroke="#111" stroke-width="0.2">CIP 1µM</text>
<text x="182.40" y="331.10" font-size="7.0" font-weight="bold" textLength="11.10" lengthAdjust="spacingAndGlyphs" fill="#111" stroke="#111" stroke-width="0.2">EL4</text>
<text x="179.10" y="378.40" font-size="7.0" font-weight="bold" textLength="14.70" lengthAdjust="spacingAndGlyphs" fill="#111" stroke="#111" stroke-width="0.2">P815</text>
<defs><filter id="bl4" x="-20%" y="-20%" width="140%" height="140%"><feGaussianBlur stdDeviation="0.35"/></filter></defs>
<defs><filter id="bc9" x="-80%" y="-80%" width="260%" height="260%"><feGaussianBlur stdDeviation="0.9"/></filter><filter id="bc12" x="-80%" y="-80%" width="260%" height="260%"><feGaussianBlur stdDeviation="1.2"/></filter></defs>
<clipPath id="cp1"><rect x="198" y="310" width="37" height="38"/></clipPath>
<g clip-path="url(#cp1)"><path d="M205.1,329.8h0.9v0.9h-0.9zM205.2,327.7h0.9v0.9h-0.9zM202.7,328.0h0.9v0.9h-0.9zM209.9,329.6h0.9v0.9h-0.9zM209.6,329.1h0.9v0.9h-0.9zM207.4,329.0h0.9v0.9h-0.9zM200.2,330.6h0.9v0.9h-0.9zM207.8,329.7h0.9v0.9h-0.9zM200.1,324.1h0.9v0.9h-0.9zM202.9,327.3h0.9v0.9h-0.9zM207.1,328.4h0.9v0.9h-0.9zM207.8,326.9h0.9v0.9h-0.9zM207.1,329.5h0.9v0.9h-0.9zM203.7,332.8h0.9v0.9h-0.9zM207.9,331.5h0.9v0.9h-0.9zM203.8,326.7h0.9v0.9h-0.9zM204.8,328.2h0.9v0.9h-0.9zM208.2,329.1h0.9v0.9h-0.9zM204.4,326.1h0.9v0.9h-0.9zM204.2,331.6h0.9v0.9h-0.9zM203.2,329.1h0.9v0.9h-0.9zM207.5,324.8h0.9v0.9h-0.9zM206.2,331.8h0.9v0.9h-0.9zM198.9,327.7h0.9v0.9h-0.9zM205.6,326.5h0.9v0.9h-0.9zM207.7,328.3h0.9v0.9h-0.9zM200.9,330.6h0.9v0.9h-0.9zM208.3,330.9h0.9v0.9h-0.9zM211.0,329.4h0.9v0.9h-0.9zM206.4,325.3h0.9v0.9h-0.9zM208.2,327.0h0.9v0.9h-0.9zM204.4,325.3h0.9v0.9h-0.9zM202.6,327.2h0.9v0.9h-0.9zM210.5,323.4h0.9v0.9h-0.9zM200.9,329.1h0.9v0.9h-0.9zM211.1,329.9h0.9v0.9h-0.9zM199.4,322.2h0.9v0.9h-0.9zM207.3,326.7h0.9v0.9h-0.9zM202.1,330.9h0.9v0.9h-0.9zM209.9,328.9h0.9v0.9h-0.9zM206.9,329.6h0.9v0.9h-0.9zM211.6,330.0h0.9v0.9h-0.9zM207.8,329.9h0.9v0.9h-0.9zM200.5,331.7h0.9v0.9h-0.9zM209.3,329.8h0.9v0.9h-0.9zM199.1,326.9h0.9v0.9h-0.9zM208.9,324.0h0.9v0.9h-0.9zM205.4,331.0h0.9v0.9h-0.9zM201.4,332.5h0.9v0.9h-0.9zM207.9,328.1h0.9v0.9h-0.9zM207.1,330.1h0.9v0.9h-0.9zM206.4,331.4h0.9v0.9h-0.9zM203.7,327.5h0.9v0.9h-0.9zM209.6,328.6h0.9v0.9h-0.9zM202.9,330.9h0.9v0.9h-0.9zM211.1,327.4h0.9v0.9h-0.9zM201.2,328.2h0.9v0.9h-0.9zM205.5,327.8h0.9v0.9h-0.9zM210.9,325.9h0.9v0.9h-0.9zM210.4,325.3h0.9v0.9h-0.9zM212.1,322.6h0.9v0.9h-0.9zM214.4,323.1h0.9v0.9h-0.9zM213.4,321.4h0.9v0.9h-0.9zM213.2,322.4h0.9v0.9h-0.9zM212.8,321.7h0.9v0.9h-0.9zM213.7,321.0h0.9v0.9h-0.9zM213.9,322.4h0.9v0.9h-0.9zM215.4,321.8h0.9v0.9h-0.9zM212.5,320.1h0.9v0.9h-0.9zM213.0,323.3h0.9v0.9h-0.9zM201.0,331.5h0.9v0.9h-0.9zM207.5,327.9h0.9v0.9h-0.9zM198.6,331.3h0.9v0.9h-0.9zM203.2,331.3h0.9v0.9h-0.9zM200.7,331.8h0.9v0.9h-0.9zM202.8,330.4h0.9v0.9h-0.9zM209.3,331.4h0.9v0.9h-0.9zM200.3,330.9h0.9v0.9h-0.9zM201.3,330.9h0.9v0.9h-0.9zM193.8,330.4h0.9v0.9h-0.9zM205.0,329.6h0.9v0.9h-0.9zM201.8,332.1h0.9v0.9h-0.9zM204.6,332.8h0.9v0.9h-0.9zM196.9,330.6h0.9v0.9h-0.9zM201.0,331.7h0.9v0.9h-0.9zM205.3,327.8h0.9v0.9h-0.9zM205.3,329.3h0.9v0.9h-0.9zM204.0,329.2h0.9v0.9h-0.9zM202.5,332.4h0.9v0.9h-0.9zM201.6,331.2h0.9v0.9h-0.9z" fill="#000" fill-opacity="0.6" filter="url(#bl4)"/></g>
<ellipse cx="210.60" cy="329.60" rx="3.4" ry="3.0" fill="#000" opacity="1" filter="url(#bc9)"/>
<ellipse cx="207.50" cy="329.00" rx="2.5" ry="2.2" fill="#333" opacity="0.7" filter="url(#bc9)"/>
<clipPath id="cp2"><rect x="243" y="310" width="39" height="38"/></clipPath>
<g clip-path="url(#cp2)"><path d="M258.1,321.0h0.9v0.9h-0.9zM255.8,325.4h0.9v0.9h-0.9zM258.7,319.6h0.9v0.9h-0.9zM263.1,316.8h0.9v0.9h-0.9zM258.4,319.6h0.9v0.9h-0.9zM256.3,322.8h0.9v0.9h-0.9zM256.6,322.5h0.9v0.9h-0.9zM252.0,315.7h0.9v0.9h-0.9zM257.6,317.4h0.9v0.9h-0.9zM253.3,315.8h0.9v0.9h-0.9zM259.3,322.9h0.9v0.9h-0.9zM259.8,317.5h0.9v0.9h-0.9zM256.0,316.9h0.9v0.9h-0.9zM258.0,325.6h0.9v0.9h-0.9zM253.7,325.5h0.9v0.9h-0.9zM258.6,319.9h0.9v0.9h-0.9zM250.9,325.0h0.9v0.9h-0.9zM255.7,318.6h0.9v0.9h-0.9zM257.0,321.8h0.9v0.9h-0.9zM259.9,317.2h0.9v0.9h-0.9zM259.0,325.3h0.9v0.9h-0.9zM259.8,319.9h0.9v0.9h-0.9zM254.1,323.8h0.9v0.9h-0.9zM256.3,320.9h0.9v0.9h-0.9zM259.7,319.7h0.9v0.9h-0.9zM250.0,319.3h0.9v0.9h-0.9zM251.2,323.1h0.9v0.9h-0.9zM256.8,318.5h0.9v0.9h-0.9zM256.0,323.2h0.9v0.9h-0.9zM256.2,324.7h0.9v0.9h-0.9zM255.8,323.8h0.9v0.9h-0.9zM259.9,325.7h0.9v0.9h-0.9zM254.3,323.3h0.9v0.9h-0.9zM251.1,317.0h0.9v0.9h-0.9zM250.9,323.9h0.9v0.9h-0.9zM252.8,320.5h0.9v0.9h-0.9zM255.5,320.4h0.9v0.9h-0.9zM254.5,321.2h0.9v0.9h-0.9zM260.7,320.6h0.9v0.9h-0.9zM257.4,323.7h0.9v0.9h-0.9zM255.5,316.5h0.9v0.9h-0.9zM254.6,323.9h0.9v0.9h-0.9zM251.7,318.6h0.9v0.9h-0.9zM258.6,323.0h0.9v0.9h-0.9zM256.0,323.1h0.9v0.9h-0.9zM256.4,316.7h0.9v0.9h-0.9zM251.9,318.5h0.9v0.9h-0.9zM258.4,318.7h0.9v0.9h-0.9zM253.7,318.0h0.9v0.9h-0.9zM252.0,320.1h0.9v0.9h-0.9zM252.9,321.7h0.9v0.9h-0.9zM249.9,321.5h0.9v0.9h-0.9zM254.3,314.3h0.9v0.9h-0.9zM257.9,319.6h0.9v0.9h-0.9zM250.2,317.7h0.9v0.9h-0.9zM256.8,319.0h0.9v0.9h-0.9zM258.0,322.9h0.9v0.9h-0.9zM257.7,321.5h0.9v0.9h-0.9zM259.5,322.6h0.9v0.9h-0.9zM257.2,313.8h0.9v0.9h-0.9zM258.1,333.8h0.9v0.9h-0.9zM256.6,332.0h0.9v0.9h-0.9zM259.3,330.7h0.9v0.9h-0.9zM257.6,334.9h0.9v0.9h-0.9zM255.9,333.2h0.9v0.9h-0.9zM259.3,332.4h0.9v0.9h-0.9zM257.7,333.4h0.9v0.9h-0.9zM255.9,332.4h0.9v0.9h-0.9zM257.4,333.3h0.9v0.9h-0.9zM257.0,332.3h0.9v0.9h-0.9zM260.0,317.6h0.9v0.9h-0.9zM263.8,318.1h0.9v0.9h-0.9zM260.3,317.2h0.9v0.9h-0.9zM267.3,319.1h0.9v0.9h-0.9zM263.3,315.4h0.9v0.9h-0.9zM263.2,318.5h0.9v0.9h-0.9zM265.4,318.4h0.9v0.9h-0.9zM261.9,318.5h0.9v0.9h-0.9z" fill="#000" fill-opacity="0.6" filter="url(#bl4)"/></g>
<ellipse cx="257.30" cy="322.60" rx="2.5" ry="4.6" fill="#000" opacity="0.95" filter="url(#bc9)"/>
<ellipse cx="257.00" cy="332.60" rx="1.8" ry="1.5" fill="#888" opacity="0.6" filter="url(#bc9)"/>
<clipPath id="cp3"><rect x="290" y="310" width="40" height="38"/></clipPath>
<g clip-path="url(#cp3)"><path d="M297.6,326.4h0.9v0.9h-0.9zM303.3,321.5h0.9v0.9h-0.9zM305.8,328.6h0.9v0.9h-0.9zM299.0,321.6h0.9v0.9h-0.9zM303.2,324.0h0.9v0.9h-0.9zM301.5,320.8h0.9v0.9h-0.9zM307.8,326.4h0.9v0.9h-0.9zM299.5,319.7h0.9v0.9h-0.9zM306.8,326.3h0.9v0.9h-0.9zM307.1,325.8h0.9v0.9h-0.9zM300.3,324.2h0.9v0.9h-0.9zM297.1,321.4h0.9v0.9h-0.9zM302.4,325.0h0.9v0.9h-0.9zM300.7,323.2h0.9v0.9h-0.9zM303.6,324.6h0.9v0.9h-0.9zM304.1,324.1h0.9v0.9h-0.9zM301.7,325.7h0.9v0.9h-0.9zM302.6,321.2h0.9v0.9h-0.9zM300.9,323.5h0.9v0.9h-0.9zM302.2,323.9h0.9v0.9h-0.9zM302.5,324.0h0.9v0.9h-0.9zM302.2,320.0h0.9v0.9h-0.9zM303.6,326.5h0.9v0.9h-0.9zM303.6,323.0h0.9v0.9h-0.9zM303.6,320.8h0.9v0.9h-0.9zM297.8,323.7h0.9v0.9h-0.9zM300.2,325.6h0.9v0.9h-0.9zM299.8,316.1h0.9v0.9h-0.9zM299.9,327.9h0.9v0.9h-0.9zM301.5,319.7h0.9v0.9h-0.9zM300.6,325.0h0.9v0.9h-0.9zM303.7,324.0h0.9v0.9h-0.9zM306.2,325.5h0.9v0.9h-0.9zM302.4,325.2h0.9v0.9h-0.9zM306.6,326.2h0.9v0.9h-0.9zM305.1,320.5h0.9v0.9h-0.9zM302.1,325.5h0.9v0.9h-0.9zM301.8,326.5h0.9v0.9h-0.9zM304.0,326.0h0.9v0.9h-0.9zM302.0,330.6h0.9v0.9h-0.9zM305.6,322.9h0.9v0.9h-0.9zM302.7,330.8h0.9v0.9h-0.9zM301.6,325.9h0.9v0.9h-0.9zM305.0,323.5h0.9v0.9h-0.9zM299.6,324.0h0.9v0.9h-0.9zM303.4,326.7h0.9v0.9h-0.9zM304.5,323.6h0.9v0.9h-0.9zM304.6,325.0h0.9v0.9h-0.9zM303.0,323.7h0.9v0.9h-0.9zM301.9,325.4h0.9v0.9h-0.9zM299.9,321.7h0.9v0.9h-0.9zM302.5,319.4h0.9v0.9h-0.9zM301.4,317.9h0.9v0.9h-0.9zM300.8,325.1h0.9v0.9h-0.9zM303.9,323.3h0.9v0.9h-0.9zM306.5,317.1h0.9v0.9h-0.9zM310.7,319.0h0.9v0.9h-0.9zM309.2,317.6h0.9v0.9h-0.9zM306.6,316.7h0.9v0.9h-0.9zM308.6,319.4h0.9v0.9h-0.9zM303.2,318.4h0.9v0.9h-0.9zM308.3,316.7h0.9v0.9h-0.9zM303.3,317.4h0.9v0.9h-0.9z" fill="#000" fill-opacity="0.6" filter="url(#bl4)"/></g>
<ellipse cx="303.60" cy="325.30" rx="2.4" ry="3.2" fill="#222" opacity="0.8" filter="url(#bc9)"/>
<clipPath id="cp4"><rect x="198" y="358" width="37" height="37"/></clipPath>
<g clip-path="url(#cp4)"><path d="M202.8,376.5h0.9v0.9h-0.9zM205.1,379.4h0.9v0.9h-0.9zM207.2,380.3h0.9v0.9h-0.9zM210.3,381.1h0.9v0.9h-0.9zM200.4,378.1h0.9v0.9h-0.9zM201.3,377.1h0.9v0.9h-0.9zM204.7,379.0h0.9v0.9h-0.9zM206.7,376.1h0.9v0.9h-0.9zM200.7,379.0h0.9v0.9h-0.9zM204.3,378.4h0.9v0.9h-0.9zM204.8,377.6h0.9v0.9h-0.9zM207.5,379.6h0.9v0.9h-0.9zM204.7,377.8h0.9v0.9h-0.9zM204.4,374.1h0.9v0.9h-0.9zM201.6,379.1h0.9v0.9h-0.9zM199.7,379.4h0.9v0.9h-0.9zM205.5,376.5h0.9v0.9h-0.9zM204.1,378.4h0.9v0.9h-0.9zM206.6,380.1h0.9v0.9h-0.9zM204.9,377.5h0.9v0.9h-0.9zM204.5,378.9h0.9v0.9h-0.9zM207.6,379.5h0.9v0.9h-0.9zM202.5,376.6h0.9v0.9h-0.9zM203.7,377.7h0.9v0.9h-0.9zM201.1,378.8h0.9v0.9h-0.9zM203.3,379.2h0.9v0.9h-0.9zM206.8,378.3h0.9v0.9h-0.9zM213.1,378.4h0.9v0.9h-0.9zM208.9,379.2h0.9v0.9h-0.9zM208.9,374.7h0.9v0.9h-0.9zM202.4,379.4h0.9v0.9h-0.9zM207.1,383.2h0.9v0.9h-0.9zM206.1,381.3h0.9v0.9h-0.9zM207.7,380.7h0.9v0.9h-0.9zM206.8,378.7h0.9v0.9h-0.9zM206.8,377.1h0.9v0.9h-0.9zM209.1,377.2h0.9v0.9h-0.9zM205.9,382.8h0.9v0.9h-0.9zM204.2,379.0h0.9v0.9h-0.9zM209.1,379.0h0.9v0.9h-0.9zM202.2,379.5h0.9v0.9h-0.9zM207.0,380.3h0.9v0.9h-0.9zM202.3,382.2h0.9v0.9h-0.9zM210.8,379.0h0.9v0.9h-0.9zM205.9,378.2h0.9v0.9h-0.9zM209.9,377.7h0.9v0.9h-0.9zM207.4,378.1h0.9v0.9h-0.9zM202.6,380.3h0.9v0.9h-0.9zM209.7,379.0h0.9v0.9h-0.9zM202.6,380.5h0.9v0.9h-0.9zM210.9,372.6h0.9v0.9h-0.9zM213.3,374.0h0.9v0.9h-0.9zM210.2,376.1h0.9v0.9h-0.9zM211.0,373.4h0.9v0.9h-0.9zM210.0,371.9h0.9v0.9h-0.9zM208.4,375.2h0.9v0.9h-0.9zM213.0,369.8h0.9v0.9h-0.9zM208.7,369.1h0.9v0.9h-0.9zM212.8,371.2h0.9v0.9h-0.9zM210.9,371.4h0.9v0.9h-0.9zM210.8,370.0h0.9v0.9h-0.9zM211.0,369.4h0.9v0.9h-0.9zM199.9,380.3h0.9v0.9h-0.9zM200.9,379.8h0.9v0.9h-0.9zM198.2,380.2h0.9v0.9h-0.9zM199.0,381.6h0.9v0.9h-0.9zM201.5,379.9h0.9v0.9h-0.9zM199.1,379.3h0.9v0.9h-0.9zM198.1,379.6h0.9v0.9h-0.9zM200.6,380.5h0.9v0.9h-0.9zM201.1,382.1h0.9v0.9h-0.9zM198.6,380.0h0.9v0.9h-0.9zM205.6,378.1h0.9v0.9h-0.9zM199.0,380.2h0.9v0.9h-0.9z" fill="#000" fill-opacity="0.6" filter="url(#bl4)"/></g>
<ellipse cx="210.80" cy="379.50" rx="4.0" ry="2.8" fill="#000" opacity="1" filter="url(#bc9)"/>
<ellipse cx="206.00" cy="379.80" rx="2.5" ry="1.6" fill="#222" opacity="0.7" filter="url(#bc9)"/>
<clipPath id="cp5"><rect x="243" y="358" width="39" height="37"/></clipPath>
<g clip-path="url(#cp5)"><path d="M253.4,379.6h0.9v0.9h-0.9zM252.4,379.5h0.9v0.9h-0.9zM253.1,380.2h0.9v0.9h-0.9zM248.3,377.7h0.9v0.9h-0.9zM253.0,377.5h0.9v0.9h-0.9zM250.4,379.9h0.9v0.9h-0.9zM251.4,380.0h0.9v0.9h-0.9zM254.9,379.5h0.9v0.9h-0.9zM254.3,378.8h0.9v0.9h-0.9zM249.5,379.0h0.9v0.9h-0.9zM254.1,378.2h0.9v0.9h-0.9zM252.8,380.1h0.9v0.9h-0.9zM250.8,380.0h0.9v0.9h-0.9zM257.7,378.2h0.9v0.9h-0.9zM253.4,378.8h0.9v0.9h-0.9zM256.9,379.5h0.9v0.9h-0.9zM255.2,378.0h0.9v0.9h-0.9zM253.0,379.0h0.9v0.9h-0.9zM248.6,381.2h0.9v0.9h-0.9zM255.2,376.4h0.9v0.9h-0.9zM254.9,378.8h0.9v0.9h-0.9zM254.1,379.5h0.9v0.9h-0.9zM249.3,378.7h0.9v0.9h-0.9zM256.7,378.1h0.9v0.9h-0.9zM250.4,377.0h0.9v0.9h-0.9zM255.8,372.8h0.9v0.9h-0.9zM258.7,373.1h0.9v0.9h-0.9zM257.2,377.6h0.9v0.9h-0.9zM256.5,370.3h0.9v0.9h-0.9zM257.5,373.4h0.9v0.9h-0.9zM256.0,369.1h0.9v0.9h-0.9zM257.3,372.6h0.9v0.9h-0.9zM255.7,371.5h0.9v0.9h-0.9zM256.5,373.2h0.9v0.9h-0.9zM256.9,371.8h0.9v0.9h-0.9zM256.6,374.6h0.9v0.9h-0.9zM258.4,371.1h0.9v0.9h-0.9z" fill="#000" fill-opacity="0.6" filter="url(#bl4)"/></g>
<ellipse cx="256.30" cy="379.70" rx="3.0" ry="1.7" fill="#000" opacity="0.95" filter="url(#bc9)"/>
<clipPath id="cp6"><rect x="290" y="358" width="40" height="37"/></clipPath>
<g clip-path="url(#cp6)"><path d="M304.5,373.3h0.9v0.9h-0.9zM301.8,379.6h0.9v0.9h-0.9zM307.0,374.9h0.9v0.9h-0.9zM301.2,377.3h0.9v0.9h-0.9zM296.1,376.6h0.9v0.9h-0.9zM299.1,378.1h0.9v0.9h-0.9zM297.4,368.2h0.9v0.9h-0.9zM301.6,377.6h0.9v0.9h-0.9zM299.5,380.2h0.9v0.9h-0.9zM300.5,374.0h0.9v0.9h-0.9zM303.2,369.9h0.9v0.9h-0.9zM299.1,376.4h0.9v0.9h-0.9zM304.6,375.8h0.9v0.9h-0.9zM302.6,373.7h0.9v0.9h-0.9zM302.6,383.5h0.9v0.9h-0.9zM299.0,386.4h0.9v0.9h-0.9zM299.2,376.6h0.9v0.9h-0.9zM302.1,380.8h0.9v0.9h-0.9zM297.0,367.7h0.9v0.9h-0.9zM303.7,379.8h0.9v0.9h-0.9zM303.7,387.5h0.9v0.9h-0.9zM302.2,377.6h0.9v0.9h-0.9zM304.8,378.0h0.9v0.9h-0.9zM307.5,371.3h0.9v0.9h-0.9zM300.1,362.0h0.9v0.9h-0.9zM304.4,374.9h0.9v0.9h-0.9zM304.8,385.5h0.9v0.9h-0.9zM301.5,375.4h0.9v0.9h-0.9zM299.7,373.0h0.9v0.9h-0.9zM299.2,379.2h0.9v0.9h-0.9zM301.6,376.8h0.9v0.9h-0.9zM300.9,380.3h0.9v0.9h-0.9zM303.3,375.9h0.9v0.9h-0.9zM303.9,375.9h0.9v0.9h-0.9zM297.3,382.6h0.9v0.9h-0.9zM303.2,372.5h0.9v0.9h-0.9zM305.4,377.9h0.9v0.9h-0.9zM295.9,383.3h0.9v0.9h-0.9zM302.7,380.2h0.9v0.9h-0.9zM302.2,375.9h0.9v0.9h-0.9zM295.9,380.6h0.9v0.9h-0.9zM301.6,375.3h0.9v0.9h-0.9zM302.8,376.8h0.9v0.9h-0.9zM303.9,374.9h0.9v0.9h-0.9zM301.4,367.5h0.9v0.9h-0.9zM300.0,379.3h0.9v0.9h-0.9zM306.3,375.0h0.9v0.9h-0.9zM301.1,383.2h0.9v0.9h-0.9zM300.3,379.6h0.9v0.9h-0.9zM307.5,376.7h0.9v0.9h-0.9zM305.9,373.5h0.9v0.9h-0.9zM302.2,376.2h0.9v0.9h-0.9zM301.9,381.2h0.9v0.9h-0.9zM310.1,373.7h0.9v0.9h-0.9zM299.4,378.6h0.9v0.9h-0.9zM297.7,378.6h0.9v0.9h-0.9zM303.6,375.3h0.9v0.9h-0.9zM303.4,370.0h0.9v0.9h-0.9zM304.2,370.0h0.9v0.9h-0.9zM299.0,374.2h0.9v0.9h-0.9zM300.1,380.1h0.9v0.9h-0.9zM301.8,374.8h0.9v0.9h-0.9zM303.5,383.1h0.9v0.9h-0.9zM301.5,378.0h0.9v0.9h-0.9zM306.0,377.6h0.9v0.9h-0.9zM296.9,387.0h0.9v0.9h-0.9zM309.5,368.2h0.9v0.9h-0.9zM301.4,378.3h0.9v0.9h-0.9zM305.0,379.3h0.9v0.9h-0.9zM300.5,372.1h0.9v0.9h-0.9zM301.9,380.8h0.9v0.9h-0.9zM297.6,372.2h0.9v0.9h-0.9zM301.4,368.4h0.9v0.9h-0.9zM300.6,374.7h0.9v0.9h-0.9zM303.1,373.6h0.9v0.9h-0.9zM298.3,374.8h0.9v0.9h-0.9zM301.3,373.7h0.9v0.9h-0.9zM301.5,379.7h0.9v0.9h-0.9zM305.8,383.7h0.9v0.9h-0.9zM298.7,374.7h0.9v0.9h-0.9zM292.6,384.5h0.9v0.9h-0.9zM298.9,376.4h0.9v0.9h-0.9zM303.4,370.8h0.9v0.9h-0.9zM303.2,376.4h0.9v0.9h-0.9zM294.9,377.7h0.9v0.9h-0.9zM305.8,368.7h0.9v0.9h-0.9zM304.4,377.4h0.9v0.9h-0.9zM303.2,378.4h0.9v0.9h-0.9zM306.2,375.6h0.9v0.9h-0.9zM304.6,374.8h0.9v0.9h-0.9zM304.1,373.1h0.9v0.9h-0.9zM301.1,383.8h0.9v0.9h-0.9zM303.1,375.8h0.9v0.9h-0.9zM297.4,373.2h0.9v0.9h-0.9zM302.2,380.4h0.9v0.9h-0.9zM303.0,378.7h0.9v0.9h-0.9zM301.3,382.2h0.9v0.9h-0.9zM300.1,374.2h0.9v0.9h-0.9zM304.7,376.8h0.9v0.9h-0.9zM300.5,374.1h0.9v0.9h-0.9z" fill="#000" fill-opacity="0.5" filter="url(#bl4)"/></g>
<ellipse cx="303.80" cy="375.60" rx="2.8" ry="3.8" fill="#222" opacity="0.65" filter="url(#bc9)"/>
<ellipse cx="300.00" cy="377.00" rx="3" ry="3" fill="#777" opacity="0.4" filter="url(#bc12)"/>
<rect x="197.30" y="309.00" width="38.20" height="39.50" fill="none" stroke="#858585" stroke-width="1"/>
<line x1="215.30" y1="309.00" x2="215.30" y2="348.50" stroke="#7a7a7a" stroke-width="1"/>
<line x1="197.30" y1="325.10" x2="235.50" y2="325.10" stroke="#7a7a7a" stroke-width="1"/>
<text x="198.50" y="314.30" font-size="4.8" textLength="6.00" lengthAdjust="spacingAndGlyphs" fill="#888" >UL</text>
<text x="227.90" y="314.30" font-size="4.8" textLength="6.00" lengthAdjust="spacingAndGlyphs" fill="#888" >UR</text>
<text x="198.50" y="347.30" font-size="4.8" textLength="6.00" lengthAdjust="spacingAndGlyphs" fill="#888" >LL</text>
<text x="227.90" y="347.30" font-size="4.8" textLength="6.00" lengthAdjust="spacingAndGlyphs" fill="#888" >LR</text>
<text x="203.90" y="320.40" font-size="7.6" font-weight="bold" fill="#111" >2</text>
<rect x="242.40" y="309.00" width="40.00" height="39.50" fill="none" stroke="#858585" stroke-width="1"/>
<line x1="261.30" y1="309.00" x2="261.30" y2="348.50" stroke="#7a7a7a" stroke-width="1"/>
<line x1="242.40" y1="325.10" x2="282.40" y2="325.10" stroke="#7a7a7a" stroke-width="1"/>
<text x="243.60" y="314.30" font-size="4.8" textLength="6.00" lengthAdjust="spacingAndGlyphs" fill="#888" >UL</text>
<text x="274.80" y="314.30" font-size="4.8" textLength="6.00" lengthAdjust="spacingAndGlyphs" fill="#888" >UR</text>
<text x="243.60" y="347.30" font-size="4.8" textLength="6.00" lengthAdjust="spacingAndGlyphs" fill="#888" >LL</text>
<text x="274.80" y="347.30" font-size="4.8" textLength="6.00" lengthAdjust="spacingAndGlyphs" fill="#888" >LR</text>
<text x="245.70" y="320.40" font-size="7.6" font-weight="bold" textLength="7.80" lengthAdjust="spacingAndGlyphs" fill="#111" >75</text>
<rect x="289.00" y="309.00" width="40.90" height="39.50" fill="none" stroke="#858585" stroke-width="1"/>
<line x1="309.10" y1="309.00" x2="309.10" y2="348.50" stroke="#7a7a7a" stroke-width="1"/>
<line x1="289.00" y1="325.10" x2="329.90" y2="325.10" stroke="#7a7a7a" stroke-width="1"/>
<text x="290.20" y="314.30" font-size="4.8" textLength="6.00" lengthAdjust="spacingAndGlyphs" fill="#888" >UL</text>
<text x="322.30" y="314.30" font-size="4.8" textLength="6.00" lengthAdjust="spacingAndGlyphs" fill="#888" >UR</text>
<text x="290.20" y="347.30" font-size="4.8" textLength="6.00" lengthAdjust="spacingAndGlyphs" fill="#888" >LL</text>
<text x="322.30" y="347.30" font-size="4.8" textLength="6.00" lengthAdjust="spacingAndGlyphs" fill="#888" >LR</text>
<text x="292.10" y="320.40" font-size="7.6" font-weight="bold" textLength="7.80" lengthAdjust="spacingAndGlyphs" fill="#111" >54</text>
<rect x="197.30" y="357.40" width="38.20" height="38.20" fill="none" stroke="#858585" stroke-width="1"/>
<line x1="215.30" y1="357.40" x2="215.30" y2="395.60" stroke="#7a7a7a" stroke-width="1"/>
<line x1="197.30" y1="372.80" x2="235.50" y2="372.80" stroke="#7a7a7a" stroke-width="1"/>
<text x="198.50" y="362.70" font-size="4.8" textLength="6.00" lengthAdjust="spacingAndGlyphs" fill="#888" >UL</text>
<text x="227.90" y="362.70" font-size="4.8" textLength="6.00" lengthAdjust="spacingAndGlyphs" fill="#888" >UR</text>
<text x="198.50" y="394.40" font-size="4.8" textLength="6.00" lengthAdjust="spacingAndGlyphs" fill="#888" >LL</text>
<text x="227.90" y="394.40" font-size="4.8" textLength="6.00" lengthAdjust="spacingAndGlyphs" fill="#888" >LR</text>
<text x="205.20" y="368.80" font-size="7.6" font-weight="bold" fill="#111" >1</text>
<rect x="242.40" y="357.40" width="40.00" height="38.20" fill="none" stroke="#858585" stroke-width="1"/>
<line x1="261.30" y1="357.40" x2="261.30" y2="395.60" stroke="#7a7a7a" stroke-width="1"/>
<line x1="242.40" y1="372.80" x2="282.40" y2="372.80" stroke="#7a7a7a" stroke-width="1"/>
<text x="243.60" y="362.70" font-size="4.8" textLength="6.00" lengthAdjust="spacingAndGlyphs" fill="#888" >UL</text>
<text x="274.80" y="362.70" font-size="4.8" textLength="6.00" lengthAdjust="spacingAndGlyphs" fill="#888" >UR</text>
<text x="243.60" y="394.40" font-size="4.8" textLength="6.00" lengthAdjust="spacingAndGlyphs" fill="#888" >LL</text>
<text x="274.80" y="394.40" font-size="4.8" textLength="6.00" lengthAdjust="spacingAndGlyphs" fill="#888" >LR</text>
<text x="245.70" y="368.80" font-size="7.6" font-weight="bold" textLength="7.80" lengthAdjust="spacingAndGlyphs" fill="#111" >11</text>
<rect x="289.00" y="357.40" width="40.90" height="38.20" fill="none" stroke="#858585" stroke-width="1"/>
<line x1="309.10" y1="357.40" x2="309.10" y2="395.60" stroke="#7a7a7a" stroke-width="1"/>
<line x1="289.00" y1="372.80" x2="329.90" y2="372.80" stroke="#7a7a7a" stroke-width="1"/>
<text x="290.20" y="362.70" font-size="4.8" textLength="6.00" lengthAdjust="spacingAndGlyphs" fill="#888" >UL</text>
<text x="322.30" y="362.70" font-size="4.8" textLength="6.00" lengthAdjust="spacingAndGlyphs" fill="#888" >UR</text>
<text x="290.20" y="394.40" font-size="4.8" textLength="6.00" lengthAdjust="spacingAndGlyphs" fill="#888" >LL</text>
<text x="322.30" y="394.40" font-size="4.8" textLength="6.00" lengthAdjust="spacingAndGlyphs" fill="#888" >LR</text>
<text x="294.10" y="368.80" font-size="7.6" font-weight="bold" textLength="7.80" lengthAdjust="spacingAndGlyphs" fill="#111" >21</text>
<text x="359.10" y="318.40" font-size="7.0" textLength="15.80" lengthAdjust="spacingAndGlyphs" fill="#1e1e1e" stroke="#1e1e1e" stroke-width="0.22" >Early</text>
<text x="359.10" y="325.90" font-size="7.0" textLength="27.40" lengthAdjust="spacingAndGlyphs" fill="#1e1e1e" stroke="#1e1e1e" stroke-width="0.22" >apoptotic</text>
<text x="389.70" y="338.00" font-size="7.0" textLength="12.60" lengthAdjust="spacingAndGlyphs" fill="#1e1e1e" stroke="#1e1e1e" stroke-width="0.22" >Late</text>
<text x="389.70" y="345.40" font-size="7.0" textLength="26.80" lengthAdjust="spacingAndGlyphs" fill="#1e1e1e" stroke="#1e1e1e" stroke-width="0.22" >apoptotic</text>
<text x="372.80" y="359.80" font-size="7.0" textLength="17.50" lengthAdjust="spacingAndGlyphs" fill="#1e1e1e" stroke="#1e1e1e" stroke-width="0.22" >viable</text>
<text x="355.30" y="382.40" font-size="7.0" textLength="16.90" lengthAdjust="spacingAndGlyphs" fill="#1e1e1e" stroke="#1e1e1e" stroke-width="0.22" >7AAD</text>
<text x="348.00" y="363.00" font-size="7.0" textLength="21.00" lengthAdjust="spacingAndGlyphs" fill="#1e1e1e" stroke="#1e1e1e" stroke-width="0.22" transform="rotate(-90 348.00 363.00)" >Annexin</text>
<line x1="353.20" y1="329.50" x2="353.20" y2="373.50" stroke="#1a1a1a" stroke-width="1.2"/>
<line x1="352.60" y1="372.90" x2="377.50" y2="372.90" stroke="#1a1a1a" stroke-width="1.2"/>
<path d="M350.5,330.8 L355.9,330.8 L353.2,325.6 Z" fill="#111"/>
<path d="M376.5,370.2 L376.5,375.6 L381.4,372.9 Z" fill="#111"/>
<line x1="370.10" y1="335.00" x2="370.10" y2="372.90" stroke="#1a1a1a" stroke-width="1.0"/>
<line x1="353.20" y1="345.70" x2="387.00" y2="345.70" stroke="#1a1a1a" stroke-width="1.0"/>
<ellipse cx="362.3" cy="338.8" rx="3.1" ry="3.7" fill="#6a6a6a" stroke="#2a2a2a" stroke-width="0.9"/>
<ellipse cx="379.1" cy="338.8" rx="3.1" ry="3.7" fill="#a0a0a0" stroke="#3a3a3a" stroke-width="0.9"/>
<ellipse cx="362.3" cy="356" rx="3.1" ry="3.7" fill="#555" stroke="#222" stroke-width="0.9"/>
<rect x="0.7" y="0.7" width="518.6" height="401.6" fill="none" stroke="#000" stroke-width="1.5"/>
</svg></body></html>
